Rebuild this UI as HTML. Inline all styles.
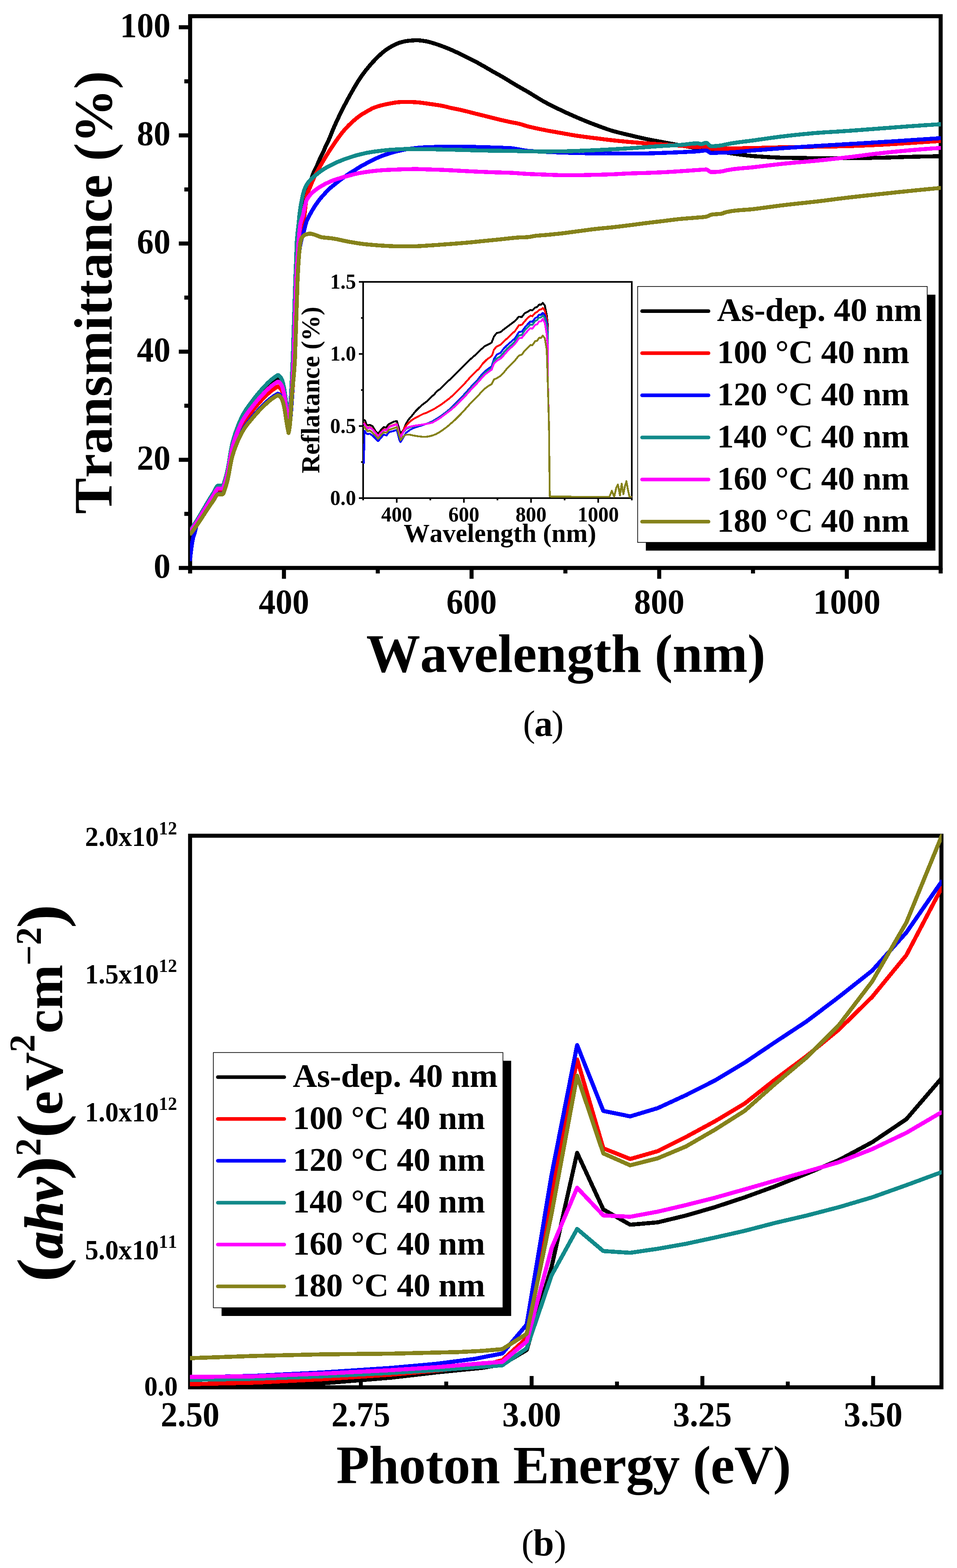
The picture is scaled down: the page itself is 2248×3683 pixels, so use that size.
<!DOCTYPE html>
<html lang="en">
<head>
<meta charset="utf-8">
<title>Transmittance and Tauc plots</title>
<style>
html,body{margin:0;padding:0;background:#ffffff;}
body{width:2248px;height:3683px;overflow:hidden;}
svg{display:block;}
svg text{font-family:"Liberation Serif",serif;font-weight:bold;fill:#000000;font-kerning:none;font-variant-ligatures:none;}
</style>
</head>
<body>
<svg width="2248" height="3683" viewBox="0 0 2248 3683">
<rect x="0" y="0" width="2248" height="3683" fill="#ffffff"/>
<g id="chart-a">
<line x1="420" y1="1334" x2="446.6" y2="1334" stroke="#000" stroke-width="9.5"/>
<line x1="433" y1="1207" x2="446.6" y2="1207" stroke="#000" stroke-width="9.5"/>
<line x1="420" y1="1080" x2="446.6" y2="1080" stroke="#000" stroke-width="9.5"/>
<line x1="433" y1="953" x2="446.6" y2="953" stroke="#000" stroke-width="9.5"/>
<line x1="420" y1="826" x2="446.6" y2="826" stroke="#000" stroke-width="9.5"/>
<line x1="433" y1="699" x2="446.6" y2="699" stroke="#000" stroke-width="9.5"/>
<line x1="420" y1="572" x2="446.6" y2="572" stroke="#000" stroke-width="9.5"/>
<line x1="433" y1="445" x2="446.6" y2="445" stroke="#000" stroke-width="9.5"/>
<line x1="420" y1="318" x2="446.6" y2="318" stroke="#000" stroke-width="9.5"/>
<line x1="433" y1="191" x2="446.6" y2="191" stroke="#000" stroke-width="9.5"/>
<line x1="420" y1="64" x2="446.6" y2="64" stroke="#000" stroke-width="9.5"/>
<line x1="446.6" y1="1334" x2="446.6" y2="1347" stroke="#000" stroke-width="9.5"/>
<line x1="667" y1="1334" x2="667" y2="1359.5" stroke="#000" stroke-width="9.5"/>
<line x1="887.4" y1="1334" x2="887.4" y2="1347" stroke="#000" stroke-width="9.5"/>
<line x1="1107.7" y1="1334" x2="1107.7" y2="1359.5" stroke="#000" stroke-width="9.5"/>
<line x1="1328.1" y1="1334" x2="1328.1" y2="1347" stroke="#000" stroke-width="9.5"/>
<line x1="1548.5" y1="1334" x2="1548.5" y2="1359.5" stroke="#000" stroke-width="9.5"/>
<line x1="1768.8" y1="1334" x2="1768.8" y2="1347" stroke="#000" stroke-width="9.5"/>
<line x1="1989.2" y1="1334" x2="1989.2" y2="1359.5" stroke="#000" stroke-width="9.5"/>
<line x1="2209.6" y1="1334" x2="2209.6" y2="1347" stroke="#000" stroke-width="9.5"/>
<rect x="446.6" y="38" width="1763" height="1296" fill="none" stroke="#000" stroke-width="9.5"/>
<text transform="translate(400.5,1357.2) scale(1,1.035)" font-size="79" text-anchor="end" >0</text>
<text transform="translate(400.5,1103.2) scale(1,1.035)" font-size="79" text-anchor="end" >20</text>
<text transform="translate(400.5,849.2) scale(1,1.035)" font-size="79" text-anchor="end" >40</text>
<text transform="translate(400.5,595.2) scale(1,1.035)" font-size="79" text-anchor="end" >60</text>
<text transform="translate(400.5,341.2) scale(1,1.035)" font-size="79" text-anchor="end" >80</text>
<text transform="translate(400.5,87.2) scale(1,1.035)" font-size="79" text-anchor="end" >100</text>
<text transform="translate(667,1441) scale(1,1.035)" font-size="79" text-anchor="middle" >400</text>
<text transform="translate(1107.7,1441) scale(1,1.035)" font-size="79" text-anchor="middle" >600</text>
<text transform="translate(1548.5,1441) scale(1,1.035)" font-size="79" text-anchor="middle" >800</text>
<text transform="translate(1989.2,1441) scale(1,1.035)" font-size="79" text-anchor="middle" >1000</text>
<text x="1329" y="1578" font-size="127" text-anchor="middle" letter-spacing="-0.3">Wavelength (nm)</text>
<text transform="translate(262,687) rotate(-90)" font-size="127" text-anchor="middle">Transmittance (%)</text>
<clipPath id="clipA"><rect x="446.2" y="38" width="1763.8" height="1296"/></clipPath>
<g clip-path="url(#clipA)" stroke-linejoin="round" shape-rendering="crispEdges">
<polyline points="445.6,1248 448.1,1245.8 449.6,1243.7 451.1,1241.5 452.6,1239.3 454.1,1237.1 455.6,1234.9 457.1,1232.6 458.6,1230.3 460.1,1228 461.6,1225.7 461.9,1225.2 463.1,1223.3 464.6,1220.9 466.1,1218.5 467.6,1216 469.1,1213.6 470.6,1211.1 472.1,1208.5 473.6,1206 475.1,1203.5 476.6,1200.9 478.1,1198.4 479.7,1195.9 481.2,1193.4 482.7,1190.9 483.8,1189 484.2,1188.5 485.7,1186 487.2,1183.5 488.7,1181.1 490.2,1178.6 491.7,1176.1 493.2,1173.7 494.7,1171.2 496.2,1168.8 497.7,1166.4 499.2,1164.1 500.7,1161.7 501.4,1160.7 502.2,1159.3 503.7,1156.6 505.2,1153.7 506.7,1150.8 508.2,1148.2 509.7,1146.2 511.2,1144.9 512.3,1144.7 512.7,1144.7 514.2,1144.7 515.7,1144.7 517.2,1144.7 518.7,1144.7 520.2,1144.7 521.8,1144.7 523.3,1144.7 523.3,1144.7 524.8,1142.6 526.3,1138 527.7,1133.4 527.8,1133 529.3,1128.3 530.8,1123.1 532.3,1117.4 533.8,1111.3 534.2,1109.4 535.3,1104.5 536.8,1096.5 538.3,1087.7 539.8,1078.5 541.3,1069.4 542.8,1060.8 544.3,1053.3 545.2,1049.5 545.8,1047 547.3,1041.4 548.8,1036.1 550.3,1031.2 551.8,1026.6 553.3,1022.2 554.8,1018 556.3,1013.9 557.8,1010 558.3,1008.7 559.3,1006.2 560.8,1002.4 562.3,998.8 563.9,995.4 565.4,992 566.9,988.8 568.4,985.8 569.9,982.9 571.4,980.1 571.5,980 572.9,977.6 574.4,975.1 575.9,972.7 577.4,970.4 578.9,968.1 580.4,966 581.9,963.9 583.4,961.8 584.9,959.8 586.4,957.8 587.9,955.9 589.4,953.9 590.9,952 592.4,950.1 593.4,948.8 593.9,948.1 595.4,946.2 596.9,944.2 598.4,942.3 599.9,940.4 601.4,938.6 602.9,936.7 604.4,934.9 606,933.1 607.5,931.3 609,929.5 610.5,927.8 612,926.1 613.5,924.4 615,922.8 615.3,922.4 616.5,921.2 618,919.5 619.5,917.9 621,916.3 622.5,914.8 624,913.2 625.5,911.7 627,910.2 628.5,908.7 630,907.2 631.5,905.8 633,904.4 634.5,903.1 636,901.8 637.2,900.8 637.5,900.6 639,899.4 640.5,898.2 642,897.1 643.5,896 645,894.9 646.5,893.9 648.1,892.9 649.6,891.9 651.1,891 652.6,890.1 654.1,890.4 655.7,891.4 657.3,892.9 658.9,894.8 660.4,897.1 661.3,898.4 662,899.7 663.6,904 665.2,909.8 666.7,916.8 667.9,922.4 668.3,924.6 669.9,935.5 671.5,947.7 672.3,953.6 673,958.5 674.6,968.5 676.2,978.1 677.8,987.1 679.3,978.8 680.8,967.9 681.1,965.6 682.3,954.8 683.8,939.5 685.3,921.6 686.8,900.9 688.3,876.9 689.8,849.2 690,844.3 691.3,808.7 692.1,781 692.8,761.7 694.2,717.7 694.3,716.7 695.8,669.2 696.3,654.4 697.3,636.2 698.8,612.5 699.5,601.6 700.3,590.3 701.8,570.6 701.8,569.9 703.3,555.9 704.8,543.5 706.3,533.2 706.5,531.9 707.8,524.1 709.3,515.4 710.8,506.9 712.3,498.8 713.8,490.9 715.3,483.4 716.8,476.1 718.3,469.2 719.8,462.5 721.3,456.1 722.8,449.9 724.3,444.1 725.8,438.4 727.3,433.1 728.8,428 730.3,423.2 731.8,418.6 733.3,414.2 734.2,411.7 734.8,410.1 736.3,406.5 737.8,403.3 739.3,400.3 740.8,397.4 742.3,394.2 742.5,393.8 743.8,390.8 745.3,387.3 746.8,383.8 748.3,380.2 749.8,376.7 751.3,373.2 752.8,369.9 752.8,369.8 754.3,366.8 755.8,363.8 757.3,361 758.8,358 760.3,354.9 761.8,351.5 761.9,351.2 763.1,347.9 763.3,347.5 764.8,344 766.3,340.7 767.8,337.7 769.3,334.7 770.8,331.6 772.3,328.5 773.5,325.9 773.8,325.1 775.3,321.5 776.8,317.8 778.3,314 779.8,310.2 781.3,306.4 782.6,303.3 782.8,302.9 784.3,299.4 785.8,296.1 787.3,292.7 788.8,289.4 790.3,286.1 791.8,282.9 793.3,279.7 794.8,276.5 796.3,273.4 797.8,270.3 799.3,267.2 800.8,264.2 802.3,261.2 803.8,258.2 804.2,257.4 805.3,255.2 806.8,252.2 808.3,249.3 809.8,246.4 811.3,243.5 812.8,240.7 814.3,237.9 815.8,235.1 817.3,232.3 818.8,229.6 820.3,226.8 821.8,224.1 823.3,221.4 824.8,218.8 825.5,217.5 826.3,216.1 827.8,213.5 829.3,210.8 830.8,208.2 832.3,205.6 833.8,203 835.3,200.5 836.8,197.9 838.3,195.4 839.8,193 841.3,190.6 842.8,188.3 844.3,186 844.6,185.6 845.8,183.7 847.3,181.6 848.8,179.4 850.3,177.3 851.8,175.2 853.3,173.1 854.8,171.1 856.3,169.1 857.8,167.2 859.3,165.2 860.8,163.3 862.3,161.5 863.8,159.7 863.8,159.6 865.3,157.8 866.8,156 868.3,154.3 869.8,152.5 871.3,150.8 872.8,149.1 874.3,147.4 875.8,145.8 877.3,144.2 878.8,142.6 880.3,141 881.8,139.5 883.3,138 883.6,137.7 884.8,136.5 886.3,135 887.8,133.5 889.3,132 890.8,130.6 892.3,129.2 893.8,127.8 895.3,126.4 896.8,125.1 898.3,123.8 899.8,122.5 901.3,121.3 902.8,120.1 903.3,119.8 904.3,119 905.8,117.9 907.3,116.9 908.8,115.8 910.3,114.8 911.8,113.8 913.3,112.9 914.8,111.9 916.3,111 917.8,110.2 919.3,109.3 920.8,108.5 922.1,107.8 922.3,107.7 923.8,106.9 925.3,106.1 926.8,105.4 928.3,104.6 929.9,103.9 931.4,103.2 932.9,102.5 934.4,101.9 935.9,101.3 937.4,100.8 938.9,100.3 940.2,99.8 940.4,99.8 941.9,99.4 943.4,99 944.9,98.6 946.4,98.2 947.9,97.8 949.4,97.5 950.9,97.1 952.4,96.8 953.9,96.6 955.4,96.3 956.9,96.1 958.4,95.9 959.1,95.9 959.9,95.8 961.4,95.6 962.9,95.5 964.4,95.4 965.9,95.3 967.4,95.1 968.9,95 970.4,94.9 971.9,94.9 973.4,94.8 974.9,94.7 976.4,94.7 977.9,94.7 979.1,94.7 979.4,94.7 980.9,94.7 982.4,94.7 983.9,94.8 985.4,94.9 986.9,95.1 988.4,95.2 989.9,95.4 991.4,95.6 992.9,95.8 994.4,96 995.9,96.2 997.4,96.4 998.9,96.6 999,96.6 1000.4,96.9 1001.9,97.1 1003.4,97.4 1004.9,97.8 1006.4,98.2 1007.9,98.6 1009.4,99 1010.9,99.4 1012.4,99.8 1013.9,100.3 1015.4,100.8 1016.9,101.2 1018.4,101.7 1019,101.8 1019.9,102.1 1021.4,102.6 1022.9,103 1024.4,103.5 1025.9,104 1027.4,104.5 1028.9,105 1030.4,105.5 1031.9,106.1 1033.4,106.6 1034.9,107.1 1036.4,107.7 1037.9,108.2 1038.9,108.6 1039.4,108.8 1040.9,109.3 1042.4,109.9 1043.9,110.5 1045.4,111.1 1046.9,111.7 1048.4,112.2 1049.9,112.9 1051.4,113.5 1052.9,114.1 1054.4,114.7 1055.9,115.3 1057.4,116 1058.9,116.6 1058.9,116.6 1060.4,117.2 1061.9,117.9 1063.4,118.6 1064.9,119.2 1066.4,119.9 1067.9,120.6 1069.4,121.3 1070.9,122 1072.4,122.7 1073.9,123.4 1075.4,124.1 1076.9,124.8 1078.4,125.6 1078.8,125.8 1079.9,126.3 1081.4,127 1082.9,127.8 1084.4,128.5 1085.9,129.2 1087.4,130 1088.9,130.8 1090.4,131.5 1091.9,132.3 1093.4,133 1094.9,133.8 1096.4,134.6 1097.9,135.3 1098.8,135.7 1099.4,136.1 1100.9,136.8 1102.4,137.5 1103.9,138.3 1105.4,139 1106.9,139.8 1108.4,140.5 1109.9,141.2 1111.4,142 1112.9,142.7 1114.4,143.5 1115.9,144.3 1117.4,145 1118.7,145.7 1118.9,145.8 1120.4,146.6 1121.9,147.4 1123.4,148.3 1124.9,149.1 1126.4,149.9 1127.9,150.8 1129.4,151.6 1130.9,152.5 1132.4,153.3 1133.9,154.2 1135.4,155 1136.9,155.9 1138.4,156.7 1138.7,156.9 1139.9,157.6 1141.4,158.5 1142.9,159.3 1144.4,160.2 1145.9,161.1 1147.4,162 1148.9,162.8 1150.4,163.7 1151.9,164.6 1153.4,165.5 1154.9,166.3 1156.4,167.2 1157.9,168.1 1158.6,168.5 1159.4,168.9 1160.9,169.8 1162.4,170.6 1163.9,171.4 1165.4,172.3 1166.9,173.1 1168.4,173.9 1169.9,174.8 1171.4,175.6 1172.9,176.4 1174.4,177.3 1175.9,178.1 1177.4,179 1178.6,179.6 1178.9,179.8 1180.4,180.7 1181.9,181.6 1183.4,182.5 1184.9,183.4 1186.4,184.3 1187.9,185.2 1189.4,186.1 1190.9,187 1192.4,187.9 1193.9,188.8 1195.4,189.7 1196.9,190.7 1198.4,191.6 1198.5,191.6 1199.9,192.5 1201.4,193.4 1202.9,194.3 1204.4,195.2 1205.9,196.1 1207.4,197 1208.9,197.9 1210.4,198.8 1211.9,199.7 1213.4,200.6 1214.9,201.5 1216.4,202.4 1217.9,203.3 1218.5,203.6 1219.4,204.1 1220.9,205 1222.4,205.9 1224,206.7 1225.5,207.6 1227,208.4 1228.5,209.3 1230,210.1 1231.5,211 1233,211.8 1234.5,212.7 1236,213.5 1237.5,214.4 1239,215.3 1239.9,215.8 1240.5,216.2 1242,217 1243.5,217.9 1245,218.8 1246.5,219.7 1248,220.7 1249.5,221.6 1251,222.5 1252.5,223.4 1254,224.3 1255.5,225.3 1257,226.2 1258.5,227.1 1260,228.1 1261.5,229 1263,229.9 1264.5,230.8 1266,231.7 1267.5,232.6 1269,233.5 1270.5,234.4 1272,235.3 1273.5,236.2 1275,237.1 1276.5,237.9 1278,238.8 1279.5,239.6 1279.8,239.8 1281,240.4 1282.5,241.2 1284,242 1285.5,242.8 1287,243.6 1288.5,244.4 1290,245.2 1291.5,245.9 1293,246.7 1294.5,247.5 1296,248.2 1297.5,249 1299,249.7 1300.5,250.5 1302,251.2 1303.5,251.9 1305,252.7 1306.5,253.4 1308,254.1 1309.5,254.8 1311,255.6 1312.5,256.3 1314,257 1315.5,257.7 1317,258.4 1318.5,259.1 1319.7,259.7 1320,259.9 1321.5,260.6 1323,261.3 1324.5,262 1326,262.7 1327.5,263.4 1329,264.1 1330.5,264.8 1332,265.5 1333.5,266.1 1335,266.8 1336.5,267.5 1338,268.2 1339.5,268.9 1341,269.5 1342.5,270.2 1344,270.9 1345.5,271.6 1347,272.2 1348.5,272.9 1350,273.5 1351.5,274.2 1353,274.8 1354.5,275.5 1356,276.1 1357.5,276.8 1359,277.4 1359.6,277.7 1360.5,278 1362,278.7 1363.5,279.3 1365,279.9 1366.5,280.6 1368,281.2 1369.5,281.8 1371,282.4 1372.5,283 1374,283.7 1375.5,284.3 1377,284.9 1378.5,285.5 1380,286.1 1381.5,286.7 1383,287.3 1384.5,287.9 1386,288.5 1387.5,289 1389,289.6 1390.5,290.2 1392,290.8 1393.5,291.4 1395,291.9 1396.5,292.5 1398,293.1 1399.5,293.6 1399.5,293.6 1401,294.2 1402.5,294.8 1404,295.3 1405.5,295.9 1407,296.4 1408.5,297 1410,297.6 1411.5,298.1 1413,298.7 1414.5,299.2 1416,299.8 1417.5,300.3 1419,300.9 1420.5,301.4 1422,301.9 1423.5,302.5 1425,303 1426.5,303.5 1428,304 1429.5,304.5 1431,305 1432.5,305.5 1434,306 1435.5,306.4 1437,306.9 1438.5,307.3 1439.4,307.6 1440,307.8 1441.5,308.2 1443,308.6 1444.5,309 1446,309.4 1447.5,309.8 1449,310.2 1450.5,310.6 1452,311 1453.5,311.4 1455,311.8 1456.5,312.1 1458,312.5 1459.5,312.9 1461,313.2 1462.5,313.6 1464,314 1465.5,314.3 1467,314.7 1468.5,315 1470,315.4 1471.5,315.7 1473,316.1 1474.5,316.4 1476,316.8 1477.5,317.1 1479,317.5 1479.3,317.6 1480.5,317.9 1482,318.2 1483.5,318.6 1485,318.9 1486.5,319.3 1488,319.7 1489.5,320 1491,320.4 1492.5,320.7 1494,321.1 1495.5,321.4 1497,321.8 1498.5,322.1 1500,322.5 1501.5,322.8 1503,323.2 1504.5,323.5 1506,323.9 1507.5,324.2 1509,324.5 1510.5,324.9 1512,325.2 1513.5,325.5 1515,325.9 1516.5,326.2 1518.1,326.5 1519.1,326.7 1519.6,326.8 1521.1,327.1 1522.6,327.4 1524.1,327.7 1525.6,328 1527.1,328.3 1528.6,328.6 1530.1,328.9 1531.6,329.2 1533.1,329.5 1534.6,329.8 1536.1,330.1 1537.6,330.3 1539.1,330.6 1540.6,330.9 1542.1,331.2 1543.6,331.5 1545.1,331.7 1546.6,332 1548.1,332.3 1549.6,332.6 1551.1,332.8 1552.6,333.1 1554.1,333.4 1555.6,333.7 1557.1,333.9 1558.6,334.2 1559,334.3 1560.1,334.5 1561.6,334.8 1563.1,335.1 1564.6,335.3 1566.1,335.6 1567.6,335.9 1569.1,336.2 1570.6,336.5 1572.1,336.7 1573.6,337 1575.1,337.3 1576.6,337.6 1578.1,337.8 1579.6,338.1 1581.1,338.4 1582.6,338.7 1584.1,338.9 1585.6,339.2 1587.1,339.5 1588.6,339.7 1590.1,340 1591.6,340.2 1593.1,340.5 1594.6,340.8 1596.1,341 1597.6,341.3 1598.9,341.5 1599.1,341.5 1600.6,341.8 1602.1,342 1603.6,342.3 1605.1,342.5 1606.6,342.8 1608.1,343.1 1609.6,343.4 1611.1,343.6 1612.6,343.9 1614.1,344.2 1615.6,344.4 1617.1,344.7 1618.6,345 1620.1,345.2 1621.6,345.4 1623.1,345.7 1624.6,345.9 1626.1,346.1 1627.6,346.3 1629.1,346.5 1630.6,346.7 1632.1,346.9 1633.6,347.1 1635.1,347.2 1636.6,347.3 1638.1,347.4 1638.8,347.5 1639.6,347.5 1641.1,347.6 1642.6,347.7 1644.1,347.7 1645.6,347.8 1647.1,347.8 1648.6,347.8 1650.1,347.9 1651.6,347.9 1653.1,348 1654.6,348 1656.1,348.1 1657.6,348.2 1658.8,348.3 1659.1,348.3 1660.6,348.5 1662.1,348.7 1663.6,349 1665.1,349.4 1666.6,349.8 1668.1,350.3 1669.6,350.8 1671.1,351.3 1672.6,351.8 1674.1,352.2 1675.6,352.7 1677.1,353.1 1678.6,353.4 1678.7,353.5 1680.1,353.7 1681.6,354.1 1683.1,354.4 1684.6,354.7 1686.1,354.9 1687.6,355.2 1689.1,355.5 1690.6,355.8 1692.1,356.1 1693.6,356.3 1695.1,356.6 1696.6,356.8 1698.1,357.1 1699.6,357.3 1701.1,357.6 1702.6,357.8 1704.1,358.1 1705.6,358.3 1707.1,358.5 1708.6,358.8 1710.1,359 1711.6,359.2 1713.1,359.4 1714.6,359.7 1716.1,359.9 1717.6,360.1 1718.6,360.2 1719.1,360.3 1720.6,360.5 1722.1,360.7 1723.6,361 1725.1,361.2 1726.6,361.4 1728.1,361.6 1729.6,361.8 1731.1,362 1732.6,362.2 1734.1,362.5 1735.6,362.7 1737.1,362.9 1738.6,363.1 1740.1,363.3 1741.6,363.5 1743.1,363.7 1744.6,363.9 1746.1,364.1 1747.6,364.3 1749.1,364.5 1750.6,364.7 1752.1,364.8 1753.6,365 1755.1,365.2 1756.6,365.4 1758.1,365.5 1759.6,365.7 1761.1,365.8 1762.6,366 1764.1,366.1 1765.6,366.3 1767.1,366.4 1768.6,366.5 1770.1,366.7 1771.6,366.8 1772.9,366.9 1773.1,366.9 1774.6,367 1776.1,367.1 1777.6,367.2 1779.1,367.3 1780.6,367.4 1782.1,367.5 1783.6,367.6 1785.1,367.7 1786.6,367.8 1788.1,367.9 1789.6,368 1791.1,368.1 1792.6,368.2 1794.1,368.3 1795.6,368.4 1797.1,368.5 1798.6,368.6 1800.1,368.7 1801.6,368.8 1803.1,368.9 1804.6,369 1806.1,369 1807.6,369.1 1809.1,369.2 1810.6,369.3 1812.2,369.4 1813.7,369.4 1815.2,369.5 1816.7,369.6 1818.2,369.6 1819.7,369.7 1821.2,369.8 1822.7,369.8 1824.2,369.9 1825.7,370 1827.2,370 1828.7,370.1 1830.2,370.1 1831.7,370.2 1833.2,370.2 1834.7,370.3 1836.2,370.3 1837.7,370.3 1839.2,370.4 1840.7,370.4 1842.2,370.5 1843.7,370.5 1845.2,370.5 1845.7,370.5 1846.7,370.5 1848.2,370.6 1849.7,370.6 1851.2,370.6 1852.7,370.6 1854.2,370.7 1855.7,370.7 1857.2,370.7 1858.7,370.7 1860.2,370.8 1861.7,370.8 1863.2,370.8 1864.7,370.8 1866.2,370.8 1867.7,370.9 1869.2,370.9 1870.7,370.9 1872.2,370.9 1873.7,370.9 1875.2,371 1876.7,371 1878.2,371 1879.7,371 1881.2,371 1882.7,371 1884.2,371.1 1885.7,371.1 1887.2,371.1 1888.7,371.1 1890.2,371.1 1891.7,371.1 1893.2,371.1 1894.7,371.2 1896.2,371.2 1897.7,371.2 1899.2,371.2 1900.7,371.2 1902.2,371.2 1903.7,371.2 1905.2,371.2 1906.7,371.2 1908.2,371.2 1909.7,371.2 1911.2,371.2 1912.7,371.2 1914.2,371.2 1915.7,371.2 1917.2,371.2 1918.6,371.2 1918.7,371.2 1920.2,371.2 1921.7,371.2 1923.2,371.2 1924.7,371.2 1926.2,371.2 1927.7,371.2 1929.2,371.2 1930.7,371.2 1932.2,371.2 1933.7,371.2 1935.2,371.2 1936.7,371.2 1938.2,371.2 1939.7,371.2 1941.2,371.2 1942.7,371.2 1944.2,371.2 1945.7,371.2 1947.2,371.2 1948.7,371.2 1950.2,371.2 1951.7,371.2 1953.2,371.2 1954.7,371.2 1956.2,371.2 1957.7,371.2 1959.2,371.2 1960.7,371.2 1962.2,371.2 1963.7,371.2 1965.2,371.2 1966.7,371.2 1968.2,371.2 1969.7,371.2 1971.2,371.2 1972.7,371.2 1974.2,371.2 1975.7,371.2 1977.2,371.2 1978.7,371.2 1980.2,371.2 1981.7,371.2 1983.2,371.2 1984.7,371.2 1986.2,371.2 1987.7,371.2 1989.2,371.2 1990.7,371.2 1991.5,371.2 1992.2,371.2 1993.7,371.2 1995.2,371.2 1996.7,371.2 1998.2,371.2 1999.7,371.2 2001.2,371.2 2002.7,371.2 2004.2,371.2 2005.7,371.2 2007.2,371.2 2008.7,371.2 2010.2,371.2 2011.7,371.2 2013.2,371.2 2014.7,371.2 2016.2,371.1 2017.7,371.1 2019.2,371.1 2020.7,371.1 2022.2,371.1 2023.7,371.1 2025.2,371.1 2026.7,371 2028.2,371 2029.7,371 2031.2,371 2032.7,371 2034.2,370.9 2035.7,370.9 2037.2,370.9 2038.7,370.9 2040.2,370.9 2041.7,370.8 2043.2,370.8 2044.7,370.8 2046.2,370.8 2047.7,370.8 2049.2,370.7 2050.7,370.7 2052.2,370.7 2053.7,370.7 2055.2,370.7 2056.7,370.6 2058.2,370.6 2059.7,370.6 2061.2,370.6 2062.7,370.5 2064.2,370.5 2064.4,370.5 2065.7,370.5 2067.2,370.5 2068.7,370.4 2070.2,370.4 2071.7,370.4 2073.2,370.4 2074.7,370.3 2076.2,370.3 2077.7,370.2 2079.2,370.2 2080.7,370.2 2082.2,370.1 2083.7,370.1 2085.2,370 2086.7,370 2088.2,369.9 2089.7,369.9 2091.2,369.8 2092.7,369.8 2094.2,369.7 2095.7,369.7 2097.2,369.6 2098.7,369.6 2100.2,369.5 2101.7,369.5 2103.2,369.4 2104.7,369.4 2106.2,369.3 2107.8,369.3 2109.3,369.2 2110.8,369.2 2112.3,369.1 2113.8,369.1 2115.3,369 2116.8,369 2118.3,368.9 2119.8,368.9 2121.3,368.8 2122.8,368.8 2124.3,368.7 2125.8,368.7 2127.3,368.6 2128.8,368.6 2130.3,368.5 2131.8,368.5 2133.3,368.4 2134.8,368.4 2136.3,368.4 2137.2,368.3 2137.8,368.3 2139.3,368.3 2140.8,368.2 2142.3,368.2 2143.8,368.2 2145.3,368.1 2146.8,368.1 2148.3,368.1 2149.8,368 2151.3,368 2152.8,368 2154.3,367.9 2155.8,367.9 2157.3,367.9 2158.8,367.8 2160.3,367.8 2161.8,367.8 2163.3,367.7 2164.8,367.7 2166.3,367.7 2167.8,367.6 2169.3,367.6 2170.8,367.6 2172.3,367.5 2173.8,367.5 2175.3,367.5 2176.8,367.4 2178.3,367.4 2179.8,367.4 2181.3,367.4 2182.8,367.3 2184.3,367.3 2185.8,367.3 2187.3,367.2 2188.8,367.2 2190.3,367.2 2191.8,367.2 2193.3,367.1 2194.8,367.1 2196.3,367.1 2197.8,367.1 2199.3,367 2200.8,367 2202.3,367 2203.8,367 2205.3,366.9 2206.8,366.9 2208.3,366.9 2210.6,366.9" fill="none" stroke="#000000" stroke-width="9.4" />
<polyline points="445.6,1251.4 448.1,1249.4 449.6,1247.3 451.1,1245.2 452.6,1243.1 454.1,1241 455.6,1238.8 457.1,1236.7 458.6,1234.5 460.1,1232.3 461.6,1230 461.9,1229.6 463.1,1227.8 464.6,1225.5 466.1,1223.1 467.6,1220.8 469.1,1218.4 470.6,1216 472.1,1213.6 473.6,1211.2 475.1,1208.7 476.6,1206.3 478.1,1203.9 479.7,1201.5 481.2,1199.1 482.7,1196.7 483.8,1194.8 484.2,1194.3 485.7,1191.9 487.2,1189.6 488.7,1187.2 490.2,1184.8 491.7,1182.5 493.2,1180.1 494.7,1177.8 496.2,1175.5 497.7,1173.2 499.2,1170.9 500.7,1168.6 501.4,1167.7 502.2,1166.4 503.7,1163.7 505.2,1160.9 506.7,1158.2 508.2,1155.7 509.7,1153.8 511.2,1152.5 512.3,1152.3 512.7,1152.3 514.2,1152.3 515.7,1152.3 517.2,1152.3 518.7,1152.3 520.2,1152.3 521.8,1152.3 523.3,1152.3 523.3,1152.3 524.8,1150.3 526.3,1145.9 527.7,1141.5 527.8,1141.1 529.3,1136.6 530.8,1131.6 532.3,1126.1 533.8,1120.3 534.2,1118.4 535.3,1113.7 536.8,1106 538.3,1097.6 539.8,1088.8 541.3,1080 542.8,1071.8 544.3,1064.6 545.2,1060.9 545.8,1058.6 547.3,1053.2 548.8,1048.1 550.3,1043.4 551.8,1038.9 553.3,1034.7 554.8,1030.7 556.3,1026.8 557.8,1023 558.3,1021.8 559.3,1019.3 560.8,1015.8 562.3,1012.3 563.9,1009 565.4,1005.8 566.9,1002.7 568.4,999.8 569.9,997 571.4,994.4 571.5,994.2 572.9,991.9 574.4,989.5 575.9,987.2 577.4,985 578.9,982.9 580.4,980.8 581.9,978.8 583.4,976.8 584.9,974.9 586.4,973 587.9,971.1 589.4,969.2 590.9,967.4 592.4,965.5 593.4,964.3 593.9,963.6 595.4,961.8 596.9,959.9 598.4,958.1 599.9,956.3 601.4,954.5 602.9,952.7 604.4,950.9 606,949.2 607.5,947.5 609,945.8 610.5,944.1 612,942.5 613.5,940.9 615,939.3 615.3,939 616.5,937.8 618,936.2 619.5,934.7 621,933.1 622.5,931.6 624,930.1 625.5,928.6 627,927.2 628.5,925.8 630,924.4 631.5,923 633,921.7 634.5,920.4 636,919.2 637.2,918.3 637.5,918 639,916.9 640.5,915.7 642,914.7 643.5,913.6 645,912.6 646.5,911.6 648.1,910.6 649.6,909.7 651.1,908.8 652.6,907.9 654.1,908.2 655.7,909.2 657.3,910.6 658.9,912.5 660.4,914.7 661.3,916 662,917.2 663.6,921.3 665.2,926.9 666.7,933.6 667.9,939 668.3,941.1 669.9,951.5 671.5,963.3 672.3,968.9 673,973.6 674.6,983.2 676.2,992.4 677.8,1001.1 679.3,992.9 680.8,982.6 681.1,980.4 682.3,970.3 683.8,956.5 685.3,940.9 686.8,923.1 688.3,902.7 689.8,879.4 691.3,852.7 691.7,844.3 692.8,815 693.8,781 694.3,767.3 695.8,722.3 695.9,717.7 697.3,674.7 698,654.4 698.8,639.3 700.3,614.1 701.2,601.6 701.8,594.7 703.3,579.2 704.4,569.9 704.8,566.9 706.3,557.1 707.8,548.6 709.3,540.4 709.6,538.3 710.8,532.1 712.3,524.2 713.8,515.6 713.9,515.1 715.3,504.5 716.8,491.1 718.3,477.6 719.8,466 721,459.6 721.3,458.4 722.8,453.2 724.3,449.1 725.8,445.5 727.3,442.1 728.3,439.6 728.8,438.4 730.3,434.6 731.8,430.9 733.3,427.2 734.8,423.7 736.3,420.4 736.6,419.7 737.8,417.1 739.3,414.1 740.8,411.1 742.3,408.2 743.8,405.3 744.6,403.7 745.3,402.5 746.8,399.8 748.3,397.1 749.8,394.4 751.3,391.8 752.8,389.2 754.3,386.6 755.8,384 755.9,383.8 757.3,381.4 758.8,378.8 760.3,376.3 761.8,373.7 763.3,371.2 764.8,368.8 765.8,367.1 766.3,366.3 767.8,363.9 769.3,361.5 770.8,359.1 772.3,356.8 773.8,354.4 775.3,352.1 776.8,349.7 778.3,347.4 779.8,345.2 781.3,342.9 782.8,340.7 784.3,338.5 785.8,336.3 787.3,334.1 787.9,333.2 788.8,332 790.3,329.8 791.8,327.7 793.3,325.6 794.8,323.5 796.3,321.4 797.8,319.4 799.3,317.4 800.8,315.4 802.3,313.4 803.8,311.5 805.3,309.7 806.8,307.9 807.3,307.3 808.3,306.1 809.8,304.4 811.3,302.8 812.8,301.1 814.3,299.5 815.8,297.9 817.3,296.4 818.8,294.8 820.3,293.3 821.8,291.9 823.3,290.4 824.8,289 826.3,287.6 826.6,287.3 827.8,286.3 829.3,284.9 830.8,283.6 832.3,282.3 833.8,281 835.3,279.7 836.8,278.4 838.3,277.2 839.8,276 841.3,274.9 842.8,273.7 844.3,272.6 845.8,271.6 846.1,271.4 847.3,270.5 848.8,269.5 850.3,268.6 851.8,267.6 853.3,266.7 854.8,265.8 856.3,264.9 857.8,264.1 859.3,263.2 859.4,263.1 860.8,262.3 862.3,261.5 863.8,260.6 865.3,259.7 866.8,258.9 868.3,258 869.8,257.2 871.3,256.4 872.8,255.6 874.3,254.8 875.8,254.1 877.3,253.5 878.8,252.8 879.4,252.6 880.3,252.3 881.8,251.7 883.3,251.2 884.8,250.7 886.3,250.2 887.8,249.7 889.3,249.3 890.8,248.9 892.3,248.4 893.8,248 895.3,247.6 896.8,247.3 898.3,246.9 899.3,246.7 899.8,246.5 901.3,246.2 902.8,245.8 904.3,245.5 905.8,245.1 907.3,244.8 908.8,244.5 910.3,244.2 911.8,243.9 913.3,243.6 914.8,243.3 916.3,243.1 917.8,242.8 919.3,242.6 919.3,242.5 920.8,242.3 922.3,242 923.8,241.8 925.3,241.5 926.8,241.2 928.3,241 929.9,240.8 931.4,240.5 932.9,240.3 934.4,240.2 935.9,240 937.4,239.9 938.9,239.8 939.2,239.8 940.4,239.8 941.9,239.7 943.4,239.7 944.9,239.7 946.4,239.6 947.9,239.6 949.4,239.6 950.9,239.5 952.4,239.5 953.9,239.5 955.4,239.5 956.9,239.5 958.4,239.5 959.1,239.5 959.9,239.5 961.4,239.5 962.9,239.5 964.4,239.6 965.9,239.6 967.4,239.7 968.9,239.7 970.4,239.8 971.9,239.9 973.4,239.9 974.9,240 976.4,240.1 977.9,240.2 979.1,240.3 979.4,240.3 980.9,240.4 982.4,240.5 983.9,240.7 985.4,240.8 986.9,241 988.4,241.2 989.9,241.4 991.4,241.6 992.9,241.8 994.4,242 995.9,242.2 997.4,242.4 998.9,242.6 999,242.7 1000.4,242.8 1001.9,243 1003.4,243.2 1004.9,243.4 1006.4,243.6 1007.9,243.8 1009.4,244.1 1010.9,244.3 1012.4,244.5 1013.9,244.7 1015.4,244.9 1016.9,245.1 1018.4,245.4 1019,245.5 1019.9,245.6 1021.4,245.8 1022.9,246 1024.4,246.3 1025.9,246.5 1027.4,246.7 1028.9,246.9 1030.4,247.2 1031.9,247.4 1033.4,247.7 1034.9,247.9 1036.4,248.2 1037.9,248.4 1038.9,248.6 1039.4,248.7 1040.9,249 1042.4,249.4 1043.9,249.7 1045.4,250.1 1046.9,250.5 1048.4,250.8 1049.9,251.2 1051.4,251.6 1052.9,252 1054.4,252.4 1055.9,252.7 1057.4,253.1 1058.9,253.4 1058.9,253.4 1060.4,253.8 1061.9,254.1 1063.4,254.4 1064.9,254.7 1066.4,255 1067.9,255.2 1069.4,255.5 1070.9,255.8 1072.4,256.1 1073.9,256.4 1075.4,256.7 1076.9,257 1078.4,257.3 1078.8,257.4 1079.9,257.7 1081.4,258 1082.9,258.3 1084.4,258.7 1085.9,259 1087.4,259.4 1088.9,259.8 1090.4,260.1 1091.9,260.5 1093.4,260.9 1094.9,261.2 1096.4,261.6 1097.9,262 1098.8,262.2 1099.4,262.4 1100.9,262.7 1102.4,263.1 1103.9,263.5 1105.4,263.9 1106.9,264.3 1108.4,264.7 1109.9,265.1 1111.4,265.5 1112.9,265.9 1114.4,266.3 1115.9,266.7 1117.4,267.1 1118.7,267.4 1118.9,267.4 1120.4,267.8 1121.9,268.2 1123.4,268.5 1124.9,268.9 1126.4,269.3 1127.9,269.6 1129.4,270 1130.9,270.3 1132.4,270.7 1133.9,271 1135.4,271.4 1136.9,271.7 1138.4,272.1 1138.7,272.2 1139.9,272.5 1141.4,272.9 1142.9,273.3 1144.4,273.7 1145.9,274.1 1147.4,274.5 1148.9,274.8 1150.4,275.2 1151.9,275.6 1153.4,276 1154.9,276.4 1156.4,276.8 1157.9,277.2 1158.6,277.4 1159.4,277.6 1160.9,277.9 1162.4,278.3 1163.9,278.7 1165.4,279 1166.9,279.4 1168.4,279.8 1169.9,280.1 1171.4,280.5 1172.9,280.8 1174.4,281.2 1175.9,281.5 1177.4,281.9 1178.6,282.2 1178.9,282.2 1180.4,282.6 1181.9,282.9 1183.4,283.3 1184.9,283.6 1186.4,283.9 1187.9,284.3 1189.4,284.6 1190.9,284.9 1192.4,285.2 1193.9,285.6 1195.4,285.9 1196.9,286.2 1198.4,286.5 1198.5,286.5 1199.9,286.8 1201.4,287.1 1202.9,287.4 1204.4,287.7 1205.9,288 1207.4,288.3 1208.9,288.6 1210.4,288.8 1211.9,289.1 1213.4,289.4 1214.9,289.7 1216.4,290.1 1217.9,290.4 1218.5,290.5 1219.4,290.8 1220.9,291.2 1222.4,291.6 1224,292 1225.5,292.5 1227,292.9 1228.5,293.4 1230,293.9 1231.5,294.3 1233,294.8 1234.5,295.3 1236,295.7 1237.5,296.2 1239,296.6 1239.9,296.8 1240.5,297 1242,297.3 1243.5,297.7 1245,298.1 1246.5,298.4 1248,298.8 1249.5,299.1 1251,299.5 1252.5,299.8 1254,300.2 1255.5,300.5 1257,300.9 1258.5,301.2 1260,301.5 1261.5,301.8 1263,302.2 1264.5,302.5 1266,302.8 1267.5,303.1 1269,303.4 1270.5,303.7 1272,304 1273.5,304.3 1275,304.6 1276.5,304.9 1278,305.2 1279.5,305.5 1279.8,305.6 1281,305.8 1282.5,306.1 1284,306.4 1285.5,306.7 1287,307 1288.5,307.3 1290,307.5 1291.5,307.8 1293,308.1 1294.5,308.4 1296,308.6 1297.5,308.9 1299,309.2 1300.5,309.4 1302,309.7 1303.5,309.9 1305,310.2 1306.5,310.5 1308,310.7 1309.5,311 1311,311.3 1312.5,311.5 1314,311.8 1315.5,312 1317,312.3 1318.5,312.6 1319.7,312.8 1320,312.8 1321.5,313.1 1323,313.3 1324.5,313.6 1326,313.9 1327.5,314.1 1329,314.4 1330.5,314.7 1332,314.9 1333.5,315.2 1335,315.5 1336.5,315.7 1338,316 1339.5,316.3 1341,316.5 1342.5,316.8 1344,317 1345.5,317.3 1347,317.6 1348.5,317.8 1350,318.1 1351.5,318.3 1353,318.5 1354.5,318.8 1356,319 1357.5,319.2 1359,319.5 1359.6,319.5 1360.5,319.7 1362,319.9 1363.5,320.1 1365,320.3 1366.5,320.5 1368,320.7 1369.5,320.9 1371,321.1 1372.5,321.3 1374,321.5 1375.5,321.7 1377,321.9 1378.5,322.1 1380,322.3 1381.5,322.5 1383,322.7 1384.5,322.9 1386,323.1 1387.5,323.3 1389,323.4 1390.5,323.6 1392,323.8 1393.5,324 1395,324.2 1396.5,324.4 1398,324.6 1399.5,324.7 1399.5,324.7 1401,324.9 1402.5,325.1 1404,325.3 1405.5,325.5 1407,325.7 1408.5,325.9 1410,326 1411.5,326.2 1413,326.4 1414.5,326.6 1416,326.8 1417.5,327 1419,327.2 1420.5,327.3 1422,327.5 1423.5,327.7 1425,327.9 1426.5,328.1 1428,328.2 1429.5,328.4 1431,328.6 1432.5,328.8 1434,328.9 1435.5,329.1 1437,329.3 1438.5,329.4 1439.4,329.5 1440,329.6 1441.5,329.8 1443,329.9 1444.5,330.1 1446,330.2 1447.5,330.4 1449,330.6 1450.5,330.7 1452,330.9 1453.5,331 1455,331.2 1456.5,331.3 1458,331.5 1459.5,331.6 1461,331.8 1462.5,331.9 1464,332.1 1465.5,332.2 1467,332.4 1468.5,332.5 1470,332.7 1471.5,332.8 1473,332.9 1474.5,333.1 1476,333.2 1477.5,333.4 1479,333.5 1479.3,333.5 1480.5,333.6 1482,333.8 1483.5,333.9 1485,334 1486.5,334.1 1488,334.3 1489.5,334.4 1491,334.5 1492.5,334.6 1494,334.8 1495.5,334.9 1497,335 1498.5,335.1 1500,335.2 1501.5,335.4 1503,335.5 1504.5,335.6 1506,335.7 1507.5,335.8 1509,335.9 1510.5,336.1 1512,336.2 1513.5,336.3 1515,336.4 1516.5,336.5 1518.1,336.6 1519.1,336.7 1519.6,336.7 1521.1,336.8 1522.6,337 1524.1,337.1 1525.6,337.2 1527.1,337.3 1528.6,337.4 1530.1,337.5 1531.6,337.6 1533.1,337.7 1534.6,337.8 1536.1,337.9 1537.6,338 1539.1,338.1 1540.6,338.2 1542.1,338.3 1543.6,338.4 1545.1,338.5 1546.6,338.6 1548.1,338.7 1549.6,338.8 1551.1,338.9 1552.6,339 1554.1,339.1 1555.6,339.3 1557.1,339.4 1558.6,339.5 1559,339.5 1560.1,339.6 1561.6,339.7 1563.1,339.8 1564.6,339.9 1566.1,340 1567.6,340.1 1569.1,340.2 1570.6,340.3 1572.1,340.4 1573.6,340.5 1575.1,340.6 1576.6,340.7 1578.1,340.8 1579.6,340.9 1581.1,341 1582.6,341.1 1584.1,341.2 1585.6,341.3 1587.1,341.4 1588.6,341.5 1590.1,341.6 1591.6,341.7 1593.1,341.9 1594.6,342 1596.1,342.1 1597.6,342.2 1598.9,342.3 1599.1,342.3 1600.6,342.4 1602.1,342.5 1603.6,342.7 1605.1,342.8 1606.6,343 1608.1,343.1 1609.6,343.3 1611.1,343.4 1612.6,343.6 1614.1,343.8 1615.6,343.9 1617.1,344.1 1618.6,344.2 1620.1,344.4 1621.6,344.5 1623.1,344.7 1624.6,344.8 1626.1,344.9 1627.6,345 1629.1,345.1 1630.6,345.2 1632.1,345.3 1633.6,345.4 1635.1,345.4 1636.6,345.5 1638.1,345.5 1638.8,345.5 1639.6,345.5 1641.1,345.4 1642.6,345.3 1644.1,345.2 1645.6,345 1647.1,344.8 1648.6,344.7 1650.1,344.5 1651.6,344.4 1653.1,344.3 1654.6,344.3 1654.8,344.3 1656.1,344.4 1657.6,344.7 1659.1,345.2 1660.6,345.8 1662.1,346.6 1663.6,347.3 1665.1,348 1666.6,348.6 1668.1,349.1 1669.6,349.4 1670.7,349.5 1671.1,349.5 1672.6,349.5 1674.1,349.5 1675.6,349.5 1677.1,349.4 1678.6,349.4 1680.1,349.4 1681.6,349.4 1683.1,349.4 1684.6,349.4 1686.1,349.3 1687.6,349.3 1689.1,349.3 1690.6,349.3 1692.1,349.2 1693.6,349.2 1695.1,349.2 1696.6,349.1 1698.1,349.1 1699.6,349.1 1701.1,349 1702.6,349 1704.1,349 1705.6,348.9 1707.1,348.9 1708.6,348.9 1710.1,348.8 1711.6,348.8 1713.1,348.8 1714.6,348.7 1716.1,348.7 1717.6,348.7 1718.6,348.7 1719.1,348.7 1720.6,348.6 1722.1,348.6 1723.6,348.6 1725.1,348.5 1726.6,348.5 1728.1,348.5 1729.6,348.5 1731.1,348.4 1732.6,348.4 1734.1,348.4 1735.6,348.3 1737.1,348.3 1738.6,348.3 1740.1,348.3 1741.6,348.2 1743.1,348.2 1744.6,348.2 1746.1,348.1 1747.6,348.1 1749.1,348.1 1750.6,348 1752.1,348 1753.6,348 1755.1,348 1756.6,347.9 1758.1,347.9 1759.6,347.9 1761.1,347.8 1762.6,347.8 1764.1,347.8 1765.6,347.7 1767.1,347.7 1768.6,347.7 1770.1,347.6 1771.6,347.6 1772.9,347.6 1773.1,347.6 1774.6,347.5 1776.1,347.5 1777.6,347.5 1779.1,347.4 1780.6,347.4 1782.1,347.3 1783.6,347.3 1785.1,347.3 1786.6,347.2 1788.1,347.2 1789.6,347.2 1791.1,347.1 1792.6,347.1 1794.1,347 1795.6,347 1797.1,347 1798.6,346.9 1800.1,346.9 1801.6,346.8 1803.1,346.8 1804.6,346.8 1806.1,346.7 1807.6,346.7 1809.1,346.6 1810.6,346.6 1812.2,346.5 1813.7,346.5 1815.2,346.5 1816.7,346.4 1818.2,346.4 1819.7,346.3 1821.2,346.3 1822.7,346.3 1824.2,346.2 1825.7,346.2 1827.2,346.2 1828.7,346.1 1830.2,346.1 1831.7,346 1833.2,346 1834.7,346 1836.2,345.9 1837.7,345.9 1839.2,345.9 1840.7,345.8 1842.2,345.8 1843.7,345.8 1845.2,345.8 1845.7,345.7 1846.7,345.7 1848.2,345.7 1849.7,345.7 1851.2,345.6 1852.7,345.6 1854.2,345.6 1855.7,345.6 1857.2,345.5 1858.7,345.5 1860.2,345.5 1861.7,345.5 1863.2,345.5 1864.7,345.4 1866.2,345.4 1867.7,345.4 1869.2,345.4 1870.7,345.3 1872.2,345.3 1873.7,345.3 1875.2,345.3 1876.7,345.3 1878.2,345.2 1879.7,345.2 1881.2,345.2 1882.7,345.2 1884.2,345.2 1885.7,345.1 1887.2,345.1 1888.7,345.1 1890.2,345.1 1891.7,345.1 1893.2,345 1894.7,345 1896.2,345 1897.7,345 1899.2,345 1900.7,344.9 1902.2,344.9 1903.7,344.9 1905.2,344.9 1906.7,344.8 1908.2,344.8 1909.7,344.8 1911.2,344.8 1912.7,344.7 1914.2,344.7 1915.7,344.7 1917.2,344.7 1918.6,344.7 1918.7,344.7 1920.2,344.6 1921.7,344.6 1923.2,344.6 1924.7,344.5 1926.2,344.5 1927.7,344.5 1929.2,344.5 1930.7,344.4 1932.2,344.4 1933.7,344.4 1935.2,344.4 1936.7,344.3 1938.2,344.3 1939.7,344.3 1941.2,344.3 1942.7,344.2 1944.2,344.2 1945.7,344.2 1947.2,344.2 1948.7,344.1 1950.2,344.1 1951.7,344.1 1953.2,344 1954.7,344 1956.2,344 1957.7,344 1959.2,343.9 1960.7,343.9 1962.2,343.9 1963.7,343.8 1965.2,343.8 1966.7,343.8 1968.2,343.7 1969.7,343.7 1971.2,343.7 1972.7,343.6 1974.2,343.6 1975.7,343.6 1977.2,343.5 1978.7,343.5 1980.2,343.5 1981.7,343.4 1983.2,343.4 1984.7,343.4 1986.2,343.3 1987.7,343.3 1989.2,343.3 1990.7,343.2 1991.5,343.2 1992.2,343.2 1993.7,343.1 1995.2,343.1 1996.7,343 1998.2,343 1999.7,343 2001.2,342.9 2002.7,342.9 2004.2,342.8 2005.7,342.8 2007.2,342.7 2008.7,342.7 2010.2,342.6 2011.7,342.6 2013.2,342.5 2014.7,342.4 2016.2,342.4 2017.7,342.3 2019.2,342.3 2020.7,342.2 2022.2,342.2 2023.7,342.1 2025.2,342 2026.7,342 2028.2,341.9 2029.7,341.9 2031.2,341.8 2032.7,341.7 2034.2,341.7 2035.7,341.6 2037.2,341.5 2038.7,341.5 2040.2,341.4 2041.7,341.3 2043.2,341.3 2044.7,341.2 2046.2,341.1 2047.7,341.1 2049.2,341 2050.7,340.9 2052.2,340.9 2053.7,340.8 2055.2,340.7 2056.7,340.6 2058.2,340.6 2059.7,340.5 2061.2,340.4 2062.7,340.4 2064.2,340.3 2064.4,340.3 2065.7,340.2 2067.2,340.1 2068.7,340.1 2070.2,340 2071.7,339.9 2073.2,339.8 2074.7,339.8 2076.2,339.7 2077.7,339.6 2079.2,339.5 2080.7,339.4 2082.2,339.3 2083.7,339.3 2085.2,339.2 2086.7,339.1 2088.2,339 2089.7,338.9 2091.2,338.8 2092.7,338.7 2094.2,338.6 2095.7,338.5 2097.2,338.5 2098.7,338.4 2100.2,338.3 2101.7,338.2 2103.2,338.1 2104.7,338 2106.2,337.9 2107.8,337.8 2109.3,337.7 2110.8,337.6 2112.3,337.5 2113.8,337.4 2115.3,337.3 2116.8,337.2 2118.3,337.1 2119.8,337 2121.3,336.9 2122.8,336.8 2124.3,336.7 2125.8,336.6 2127.3,336.5 2128.8,336.4 2130.3,336.4 2131.8,336.3 2133.3,336.2 2134.8,336.1 2136.3,336 2137.2,335.9 2137.8,335.9 2139.3,335.8 2140.8,335.7 2142.3,335.6 2143.8,335.5 2145.3,335.4 2146.8,335.3 2148.3,335.2 2149.8,335.1 2151.3,335 2152.8,334.9 2154.3,334.8 2155.8,334.7 2157.3,334.6 2158.8,334.5 2160.3,334.4 2161.8,334.3 2163.3,334.2 2164.8,334.1 2166.3,334 2167.8,333.9 2169.3,333.8 2170.8,333.7 2172.3,333.6 2173.8,333.5 2175.3,333.4 2176.8,333.3 2178.3,333.2 2179.8,333.1 2181.3,333 2182.8,332.9 2184.3,332.8 2185.8,332.7 2187.3,332.6 2188.8,332.5 2190.3,332.4 2191.8,332.3 2193.3,332.2 2194.8,332.1 2196.3,332 2197.8,331.9 2199.3,331.8 2200.8,331.7 2202.3,331.6 2203.8,331.5 2205.3,331.4 2206.8,331.3 2208.3,331.2 2210.6,331.2" fill="none" stroke="#ff0000" stroke-width="9.4" />
<polyline points="445.6,1318 448.1,1299.9 448.5,1296 449.6,1286.6 451,1277 451.1,1276.3 452.6,1268.2 454,1262 454.1,1261.5 455.6,1256.4 457.1,1251.9 458,1249 458.6,1246.6 460.1,1240.1 461.6,1234.5 461.9,1233.8 463.1,1230.9 464.6,1227.7 466.1,1224.8 467.6,1222.1 469.2,1219.7 470.7,1217.5 472.2,1215.5 473.7,1213.5 475.2,1211.6 476.7,1209.8 478.2,1208 479.7,1206.1 481.2,1204.1 482.7,1202.1 483.8,1200.4 484.2,1199.9 485.7,1197.6 487.2,1195.3 488.7,1193 490.2,1190.8 491.7,1188.5 493.2,1186.2 494.7,1184 496.2,1181.8 497.7,1179.6 499.2,1177.4 500.7,1175.2 501.4,1174.3 502.2,1173 503.7,1170.5 505.2,1167.8 506.7,1165.2 508.2,1162.8 509.7,1160.9 511.2,1159.8 512.3,1159.5 512.7,1159.5 514.3,1159.5 515.8,1159.5 517.3,1159.5 518.8,1159.5 520.3,1159.5 521.8,1159.5 523.3,1159.5 523.3,1159.5 524.8,1157.6 526.3,1153.4 527.7,1149.2 527.8,1148.8 529.3,1144.4 530.8,1139.6 532.3,1134.4 533.8,1128.8 534.2,1127.1 535.3,1122.5 536.8,1115.1 538.3,1106.9 539.8,1098.5 541.3,1090.1 542.8,1082.2 544.3,1075.3 545.2,1071.8 545.8,1069.5 547.3,1064.4 548.8,1059.5 550.3,1055 551.8,1050.7 553.3,1046.6 554.8,1042.8 556.3,1039.1 557.9,1035.4 558.3,1034.3 559.4,1031.9 560.9,1028.5 562.4,1025.2 563.9,1022 565.4,1018.9 566.9,1015.9 568.4,1013.1 569.9,1010.5 571.4,1007.9 571.5,1007.8 572.9,1005.6 574.4,1003.3 575.9,1001.1 577.4,998.9 578.9,996.9 580.4,994.9 581.9,993 583.4,991.1 584.9,989.2 586.4,987.4 587.9,985.6 589.4,983.8 590.9,982 592.4,980.2 593.4,979.1 593.9,978.4 595.4,976.6 596.9,974.9 598.4,973.1 599.9,971.4 601.4,969.6 603,967.9 604.5,966.2 606,964.6 607.5,962.9 609,961.3 610.5,959.7 612,958.2 613.5,956.6 615,955.1 615.3,954.8 616.5,953.6 618,952.1 619.5,950.6 621,949.2 622.5,947.7 624,946.3 625.5,944.9 627,943.5 628.5,942.1 630,940.8 631.5,939.5 633,938.2 634.5,937 636,935.8 637.2,934.9 637.5,934.7 639,933.6 640.5,932.5 642,931.4 643.5,930.4 645,929.4 646.6,928.5 648.1,927.5 649.6,926.6 651.1,925.8 652.6,924.9 654.1,925.3 655.7,926.2 657.3,927.6 658.9,929.4 660.4,931.4 661.3,932.7 662,933.8 663.6,937.8 665.2,943.2 666.7,949.6 667.9,954.8 668.3,956.8 669.9,966.8 671.5,978.1 672.3,983.5 673,988 674.6,997.3 676.2,1006.1 677.8,1014.4 679.3,1007.2 680.8,996.8 681.1,994.5 682.3,983.3 683.8,966 685.3,945.1 686.8,920.9 688.3,893.5 689.8,863.3 690.6,844.3 691.3,828.1 692.8,781 692.8,780.7 694.3,734.8 694.9,717.7 695.8,692.6 697.3,656.7 697.4,654.4 698.8,633.2 700.3,614.7 701.6,601.6 701.8,600.3 703.3,588.7 704.8,579 706.3,570.9 706.5,569.9 707.8,564.3 709.3,558.7 710.8,553.6 712.3,548.7 713.4,544.6 713.8,543.4 715.3,537.4 716.8,531.4 718.3,525.6 719.8,520.7 720.2,519.6 721.3,516.9 722.8,513.6 724.3,510.6 725.8,507.9 727.3,505.2 727.9,504 728.8,502.4 730.3,499.6 731.8,497 733.3,494.4 734.8,491.8 735.9,490 736.3,489.4 737.8,487 739.3,484.7 740.8,482.5 742.3,480.3 743.8,478.2 743.9,478 745.3,476 746.8,473.9 748.3,471.8 749.8,469.7 751.3,467.8 751.9,467.1 752.8,465.9 754.3,464.2 755.8,462.5 757.3,460.9 758.8,459.2 759.8,458.1 760.3,457.6 761.8,455.9 763.3,454.2 764.8,452.5 766.3,450.8 767.8,449.2 769.3,447.6 769.8,447.1 770.8,446.2 772.3,444.7 773.8,443.4 775.3,442 776.8,440.7 778.3,439.4 779.8,438.1 779.8,438.1 781.3,436.9 782.8,435.7 784.3,434.5 785.8,433.3 787.3,432.1 788.8,430.9 789.8,430.2 790.3,429.7 791.8,428.5 793.3,427.3 794.8,426.1 796.3,424.9 797.8,423.7 799.3,422.5 799.7,422.2 800.8,421.4 802.3,420.3 803.8,419.3 805.3,418.2 806.8,417.2 808.3,416.2 809.7,415.2 809.8,415.1 811.3,414.1 812.8,413 814.3,411.9 815.8,410.9 817.3,409.8 818.8,408.8 819.7,408.2 820.3,407.8 821.8,406.8 823.3,405.9 824.8,405 826.3,404.1 827.8,403.1 829.3,402.2 829.7,402 830.8,401.3 832.3,400.3 833.8,399.4 835.3,398.5 836.8,397.5 838.3,396.6 839.6,395.8 839.8,395.6 841.3,394.7 842.8,393.7 844.3,392.8 845.8,391.8 847.3,390.9 848.8,390 849.6,389.5 850.3,389.1 851.8,388.3 853.3,387.5 854.8,386.7 856.3,386 857.8,385.2 859.3,384.4 859.6,384.3 860.8,383.6 862.3,382.8 863.8,382.1 865.3,381.3 866.8,380.5 868.3,379.7 869.5,379.1 869.8,378.9 871.3,378.1 872.8,377.3 874.3,376.5 875.8,375.7 877.3,374.9 878.8,374.2 879.5,373.8 880.3,373.4 881.8,372.8 883.3,372.1 884.8,371.5 886.3,370.9 887.8,370.3 889.3,369.7 889.5,369.6 890.8,369 892.3,368.3 893.8,367.7 895.3,367 896.8,366.4 898.3,365.8 899.5,365.3 899.8,365.2 901.3,364.7 902.8,364.2 904.3,363.7 905.8,363.2 907.3,362.8 908.8,362.3 909.4,362.1 910.3,361.8 911.8,361.3 913.3,360.8 914.8,360.3 916.3,359.8 917.8,359.3 919.3,358.9 919.4,358.9 920.8,358.4 922.3,358 923.8,357.5 925.3,357.1 926.8,356.7 928.3,356.3 929.4,356 929.9,355.9 931.4,355.5 932.9,355.2 934.4,354.9 935.9,354.5 937.4,354.2 938.9,353.9 939.4,353.8 940.4,353.6 941.9,353.2 943.4,352.9 944.9,352.6 946.4,352.3 947.9,352 949.3,351.7 949.4,351.7 950.9,351.4 952.4,351.1 953.9,350.8 955.4,350.6 956.9,350.3 958.4,350 959.3,349.9 959.9,349.8 961.4,349.6 962.9,349.4 964.4,349.2 965.9,349 967.4,348.9 968.9,348.7 969.3,348.6 970.4,348.5 971.9,348.3 973.4,348.1 974.9,347.9 976.4,347.7 977.9,347.5 979.3,347.4 979.4,347.4 980.9,347.2 982.4,347.1 983.9,347 985.4,346.8 986.9,346.7 988.4,346.6 989.2,346.5 989.9,346.5 991.4,346.4 992.9,346.3 994.4,346.2 995.9,346.1 997.4,346 998.9,345.9 1000,345.9 1000.4,345.9 1001.9,345.8 1003.4,345.7 1004.9,345.7 1006.4,345.6 1007.9,345.6 1009.4,345.5 1010.9,345.5 1012.4,345.4 1013.9,345.4 1015.4,345.3 1016.9,345.3 1018.4,345.2 1019,345.2 1019.9,345.2 1021.4,345.1 1022.9,345 1024.4,344.9 1025.9,344.9 1027.4,344.8 1028.9,344.7 1030.4,344.6 1031.9,344.6 1033.4,344.5 1034.9,344.4 1036.4,344.4 1037.9,344.4 1038.9,344.4 1039.4,344.4 1040.9,344.4 1042.4,344.4 1043.9,344.4 1045.4,344.4 1046.9,344.4 1048.4,344.4 1049.9,344.4 1051.4,344.4 1052.9,344.4 1054.4,344.4 1055.9,344.4 1057.4,344.4 1058.9,344.4 1060.4,344.4 1061.9,344.4 1063.4,344.4 1064.9,344.4 1066.4,344.4 1067.9,344.4 1069.4,344.4 1070.9,344.4 1072.4,344.4 1073.9,344.4 1075.4,344.4 1076.9,344.4 1078.4,344.4 1078.8,344.4 1079.9,344.4 1081.4,344.4 1082.9,344.4 1084.4,344.4 1085.9,344.4 1087.4,344.4 1088.9,344.5 1090.4,344.5 1091.9,344.5 1093.4,344.5 1094.9,344.6 1096.4,344.6 1097.9,344.6 1099.4,344.7 1100.9,344.7 1102.4,344.8 1103.9,344.8 1105.4,344.8 1106.9,344.9 1108.4,344.9 1109.9,345 1111.4,345 1112.9,345 1114.4,345.1 1115.9,345.1 1117.4,345.2 1118.7,345.2 1118.9,345.2 1120.4,345.2 1121.9,345.3 1123.4,345.3 1124.9,345.3 1126.4,345.4 1127.9,345.4 1129.4,345.5 1130.9,345.5 1132.4,345.5 1133.9,345.6 1135.4,345.6 1136.9,345.7 1138.4,345.7 1139.9,345.8 1141.4,345.8 1142.9,345.9 1144.4,345.9 1145.9,346 1147.4,346 1148.9,346.1 1150.4,346.1 1151.9,346.2 1153.4,346.2 1154.9,346.3 1156.4,346.3 1157.9,346.4 1158.6,346.4 1159.4,346.4 1160.9,346.5 1162.4,346.5 1163.9,346.6 1165.4,346.6 1166.9,346.7 1168.4,346.7 1169.9,346.7 1171.4,346.8 1172.9,346.8 1174.4,346.9 1175.9,346.9 1177.4,347 1178.9,347.1 1180.4,347.1 1181.9,347.2 1183.4,347.2 1184.9,347.3 1186.4,347.3 1187.9,347.4 1189.4,347.5 1190.9,347.6 1192.4,347.6 1193.9,347.7 1195.4,347.8 1196.9,347.9 1198.4,348 1198.5,348 1199.9,348.1 1201.4,348.2 1202.9,348.4 1204.4,348.5 1205.9,348.7 1207.4,348.9 1208.9,349.2 1210.4,349.4 1211.9,349.7 1213.4,349.9 1214.9,350.2 1216.4,350.5 1217.9,350.8 1219.4,351 1220.9,351.3 1222.4,351.6 1224,351.9 1225.5,352.2 1227,352.4 1228.5,352.7 1230,353 1231.5,353.2 1233,353.4 1234.5,353.6 1236,353.8 1237.5,354 1239,354.2 1239.9,354.3 1240.5,354.3 1242,354.4 1243.5,354.5 1245,354.7 1246.5,354.8 1248,354.9 1249.5,355 1251,355.1 1252.5,355.2 1254,355.3 1255.5,355.4 1257,355.5 1258.5,355.6 1260,355.6 1261.5,355.7 1263,355.8 1264.5,355.9 1266,356 1267.5,356 1269,356.1 1270.5,356.2 1272,356.3 1273.5,356.3 1275,356.4 1276.5,356.5 1278,356.6 1279.5,356.6 1279.8,356.6 1281,356.7 1282.5,356.8 1284,356.8 1285.5,356.9 1287,357 1288.5,357 1290,357.1 1291.5,357.2 1293,357.2 1294.5,357.3 1296,357.4 1297.5,357.4 1299,357.5 1300.5,357.5 1302,357.6 1303.5,357.7 1305,357.7 1306.5,357.8 1308,357.8 1309.5,357.9 1311,357.9 1312.5,358 1314,358 1315.5,358.1 1317,358.2 1318.5,358.2 1319.7,358.2 1320,358.3 1321.5,358.3 1323,358.4 1324.5,358.4 1326,358.5 1327.5,358.5 1329,358.6 1330.5,358.6 1332,358.7 1333.5,358.7 1335,358.8 1336.5,358.8 1338,358.8 1339.5,358.9 1341,358.9 1342.5,359 1344,359 1345.5,359.1 1347,359.1 1348.5,359.2 1350,359.2 1351.5,359.2 1353,359.3 1354.5,359.3 1356,359.4 1357.5,359.4 1359,359.4 1359.6,359.4 1360.5,359.5 1362,359.5 1363.5,359.5 1365,359.6 1366.5,359.6 1368,359.6 1369.5,359.7 1371,359.7 1372.5,359.7 1374,359.8 1375.5,359.8 1377,359.8 1378.5,359.9 1380,359.9 1381.5,359.9 1383,360 1384.5,360 1386,360 1387.5,360 1389,360.1 1390.5,360.1 1392,360.1 1393.5,360.2 1395,360.2 1396.5,360.2 1398,360.2 1399.5,360.2 1399.5,360.2 1401,360.3 1402.5,360.3 1404,360.3 1405.5,360.3 1407,360.3 1408.5,360.4 1410,360.4 1411.5,360.4 1413,360.4 1414.5,360.4 1416,360.5 1417.5,360.5 1419,360.5 1420.5,360.5 1422,360.5 1423.5,360.6 1425,360.6 1426.5,360.6 1428,360.6 1429.5,360.6 1431,360.6 1432.5,360.6 1434,360.6 1435.5,360.6 1437,360.6 1438.5,360.6 1439.4,360.6 1440,360.6 1441.5,360.6 1443,360.6 1444.5,360.6 1446,360.6 1447.5,360.6 1449,360.6 1450.5,360.6 1452,360.6 1453.5,360.6 1455,360.6 1456.5,360.6 1458,360.6 1459.5,360.6 1461,360.6 1462.5,360.6 1464,360.6 1465.5,360.6 1467,360.6 1468.5,360.6 1470,360.6 1471.5,360.6 1473,360.6 1474.5,360.6 1476,360.6 1477.5,360.6 1479,360.6 1479.3,360.6 1480.5,360.6 1482,360.6 1483.5,360.6 1485,360.6 1486.5,360.6 1488,360.6 1489.5,360.6 1491,360.6 1492.5,360.6 1494,360.6 1495.5,360.6 1497,360.5 1498.5,360.5 1500,360.5 1501.5,360.5 1503,360.5 1504.5,360.4 1506,360.4 1507.5,360.4 1509,360.4 1510.5,360.4 1512,360.3 1513.5,360.3 1515,360.3 1516.5,360.3 1518.1,360.3 1519.1,360.2 1519.6,360.2 1521.1,360.2 1522.6,360.2 1524.1,360.2 1525.6,360.1 1527.1,360.1 1528.6,360 1530.1,360 1531.6,360 1533.1,359.9 1534.6,359.9 1536.1,359.8 1537.6,359.8 1539.1,359.7 1540.6,359.7 1542.1,359.6 1543.6,359.6 1545.1,359.5 1546.6,359.5 1548.1,359.4 1549.6,359.4 1551.1,359.3 1552.6,359.3 1554.1,359.2 1555.6,359.2 1557.1,359.1 1558.6,359.1 1559,359 1560.1,359 1561.6,359 1563.1,358.9 1564.6,358.8 1566.1,358.8 1567.6,358.7 1569.1,358.7 1570.6,358.6 1572.1,358.6 1573.6,358.5 1575.1,358.5 1576.6,358.4 1578.1,358.3 1579.6,358.3 1581.1,358.2 1582.6,358.1 1584.1,358.1 1585.6,358 1587.1,358 1588.6,357.9 1590.1,357.8 1591.6,357.8 1593.1,357.7 1594.6,357.6 1596.1,357.6 1597.6,357.5 1598.9,357.4 1599.1,357.4 1600.6,357.4 1602.1,357.3 1603.6,357.2 1605.1,357.2 1606.6,357.1 1608.1,357.1 1609.6,357 1611.1,356.9 1612.6,356.9 1614.1,356.8 1615.6,356.7 1617.1,356.7 1618.6,356.6 1620.1,356.5 1621.6,356.4 1623.1,356.4 1624.6,356.3 1626.1,356.2 1627.6,356.1 1629.1,356.1 1630.6,356 1632.1,355.9 1633.6,355.8 1635.1,355.7 1636.6,355.6 1638.1,355.5 1638.8,355.5 1639.6,355.4 1641.1,355.3 1642.6,355.1 1644.1,354.9 1645.6,354.7 1647.1,354.5 1648.6,354.3 1650.1,354.1 1651.6,353.9 1653.1,353.8 1654.6,353.6 1656.1,353.5 1657.6,353.5 1658.8,353.5 1659.1,353.5 1660.6,353.8 1662.1,354.6 1663.6,355.6 1665.1,356.7 1666.6,357.8 1668.1,358.7 1669.6,359.3 1670.7,359.4 1671.1,359.4 1672.6,359.4 1674.1,359.4 1675.6,359.3 1677.1,359.3 1678.6,359.2 1680.1,359.1 1681.6,359 1683.1,358.9 1684.6,358.8 1686.1,358.8 1687.6,358.7 1689.1,358.6 1690.6,358.5 1692.1,358.4 1693.6,358.3 1695.1,358.3 1696.6,358.3 1698.1,358.2 1698.7,358.2 1699.6,358.4 1700,358.5 1701.1,358.5 1702.6,358.5 1704.1,358.5 1705.6,358.4 1707.1,358.4 1708.6,358.4 1710.1,358.3 1711.6,358.2 1713.1,358.2 1714.6,358.1 1716.1,358 1717.6,357.9 1719.1,357.8 1720.6,357.7 1722.1,357.6 1723.6,357.5 1725.1,357.4 1726.6,357.3 1728.1,357.2 1729.6,357.1 1731.1,356.9 1732.6,356.8 1734.1,356.7 1735.6,356.5 1737.1,356.4 1738.6,356.2 1740.1,356.1 1741.6,355.9 1743.1,355.8 1744.6,355.7 1746.1,355.5 1747.6,355.4 1749.1,355.2 1750.6,355.1 1752.1,354.9 1753.6,354.8 1755.1,354.6 1756.6,354.5 1758.1,354.3 1759.6,354.2 1761.1,354 1762.6,353.9 1764.1,353.8 1765.6,353.6 1767.1,353.5 1768.6,353.4 1770.1,353.2 1771.6,353.1 1772.9,353 1773.1,353 1774.6,352.9 1776.1,352.8 1777.6,352.7 1779.1,352.6 1780.6,352.4 1782.1,352.3 1783.6,352.2 1785.1,352.1 1786.6,352 1788.1,351.9 1789.6,351.8 1791.1,351.6 1792.6,351.5 1794.1,351.4 1795.6,351.3 1797.1,351.2 1798.6,351.1 1800.1,351 1801.6,350.8 1803.1,350.7 1804.6,350.6 1806.1,350.5 1807.6,350.4 1809.1,350.3 1810.6,350.1 1812.2,350 1813.7,349.9 1815.2,349.8 1816.7,349.7 1818.2,349.6 1819.7,349.5 1821.2,349.4 1822.7,349.2 1824.2,349.1 1825.7,349 1827.2,348.9 1828.7,348.8 1830.2,348.7 1831.7,348.6 1833.2,348.5 1834.7,348.4 1836.2,348.2 1837.7,348.1 1839.2,348 1840.7,347.9 1842.2,347.8 1843.7,347.7 1845.2,347.6 1845.7,347.6 1846.7,347.5 1848.2,347.4 1849.7,347.3 1851.2,347.2 1852.7,347.1 1854.2,347 1855.7,346.9 1857.2,346.8 1858.7,346.7 1860.2,346.6 1861.7,346.5 1863.2,346.4 1864.7,346.3 1866.2,346.2 1867.7,346.1 1869.2,346 1870.7,345.9 1872.2,345.8 1873.7,345.7 1875.2,345.6 1876.7,345.5 1878.2,345.4 1879.7,345.3 1881.2,345.2 1882.7,345.1 1884.2,345 1885.7,344.9 1887.2,344.8 1888.7,344.7 1890.2,344.6 1891.7,344.5 1893.2,344.4 1894.7,344.3 1896.2,344.2 1897.7,344.1 1899.2,344 1900.7,344 1902.2,343.9 1903.7,343.8 1905.2,343.7 1906.7,343.6 1908.2,343.5 1909.7,343.4 1911.2,343.3 1912.7,343.2 1914.2,343.1 1915.7,343 1917.2,342.9 1918.6,342.8 1918.7,342.8 1920.2,342.7 1921.7,342.6 1923.2,342.5 1924.7,342.5 1926.2,342.4 1927.7,342.3 1929.2,342.2 1930.7,342.1 1932.2,342 1933.7,341.9 1935.2,341.8 1936.7,341.7 1938.2,341.6 1939.7,341.5 1941.2,341.4 1942.7,341.4 1944.2,341.3 1945.7,341.2 1947.2,341.1 1948.7,341 1950.2,340.9 1951.7,340.8 1953.2,340.7 1954.7,340.6 1956.2,340.6 1957.7,340.5 1959.2,340.4 1960.7,340.3 1962.2,340.2 1963.7,340.1 1965.2,340 1966.7,339.9 1968.2,339.8 1969.7,339.8 1971.2,339.7 1972.7,339.6 1974.2,339.5 1975.7,339.4 1977.2,339.3 1978.7,339.2 1980.2,339.1 1981.7,339 1983.2,339 1984.7,338.9 1986.2,338.8 1987.7,338.7 1989.2,338.6 1990.7,338.5 1991.5,338.5 1992.2,338.4 1993.7,338.3 1995.2,338.2 1996.7,338.1 1998.2,338.1 1999.7,338 2001.2,337.9 2002.7,337.8 2004.2,337.7 2005.7,337.6 2007.2,337.5 2008.7,337.4 2010.2,337.3 2011.7,337.3 2013.2,337.2 2014.7,337.1 2016.2,337 2017.7,336.9 2019.2,336.8 2020.7,336.7 2022.2,336.6 2023.7,336.5 2025.2,336.5 2026.7,336.4 2028.2,336.3 2029.7,336.2 2031.2,336.1 2032.7,336 2034.2,335.9 2035.7,335.8 2037.2,335.7 2038.7,335.6 2040.2,335.6 2041.7,335.5 2043.2,335.4 2044.7,335.3 2046.2,335.2 2047.7,335.1 2049.2,335 2050.7,334.9 2052.2,334.8 2053.7,334.7 2055.2,334.6 2056.7,334.6 2058.2,334.5 2059.7,334.4 2061.2,334.3 2062.7,334.2 2064.2,334.1 2064.4,334.1 2065.7,334 2067.2,333.9 2068.7,333.8 2070.2,333.7 2071.7,333.6 2073.2,333.5 2074.7,333.4 2076.2,333.3 2077.7,333.2 2079.2,333.1 2080.7,333 2082.2,333 2083.7,332.9 2085.2,332.8 2086.7,332.7 2088.2,332.6 2089.7,332.5 2091.2,332.4 2092.7,332.3 2094.2,332.2 2095.7,332.1 2097.2,332 2098.7,331.9 2100.2,331.8 2101.7,331.7 2103.2,331.6 2104.7,331.5 2106.2,331.4 2107.8,331.3 2109.3,331.2 2110.8,331.1 2112.3,331 2113.8,330.9 2115.3,330.8 2116.8,330.7 2118.3,330.6 2119.8,330.5 2121.3,330.4 2122.8,330.3 2124.3,330.2 2125.8,330.1 2127.3,330 2128.8,329.9 2130.3,329.8 2131.8,329.7 2133.3,329.6 2134.8,329.5 2136.3,329.4 2137.2,329.3 2137.8,329.3 2139.3,329.2 2140.8,329.1 2142.3,329 2143.8,328.9 2145.3,328.8 2146.8,328.7 2148.3,328.6 2149.8,328.5 2151.3,328.4 2152.8,328.3 2154.3,328.2 2155.8,328.1 2157.3,328 2158.8,327.9 2160.3,327.8 2161.8,327.7 2163.3,327.6 2164.8,327.5 2166.3,327.4 2167.8,327.3 2169.3,327.2 2170.8,327.1 2172.3,327 2173.8,326.9 2175.3,326.8 2176.8,326.7 2178.3,326.6 2179.8,326.5 2181.3,326.4 2182.8,326.3 2184.3,326.2 2185.8,326.1 2187.3,326 2188.8,325.9 2190.3,325.8 2191.8,325.7 2193.3,325.6 2194.8,325.5 2196.3,325.4 2197.8,325.3 2199.3,325.2 2200.8,325.1 2202.3,325 2203.8,324.9 2205.3,324.8 2206.8,324.7 2208.3,324.6 2210.6,324.6" fill="none" stroke="#0000ff" stroke-width="9.4" />
<polyline points="445.6,1246.2 448.1,1244.1 449.6,1241.9 451.1,1239.6 452.6,1237.4 454.1,1235.1 455.6,1232.9 457.1,1230.6 458.6,1228.2 460.1,1225.9 461.6,1223.5 461.9,1223 463.1,1221.1 464.6,1218.7 466.1,1216.2 467.6,1213.7 469.1,1211.1 470.6,1208.6 472.1,1206 473.6,1203.4 475.1,1200.9 476.6,1198.3 478.1,1195.7 479.7,1193.1 481.2,1190.6 482.7,1188 483.8,1186.1 484.2,1185.5 485.7,1183 487.2,1180.5 488.7,1178 490.2,1175.5 491.7,1172.9 493.2,1170.4 494.7,1168 496.2,1165.5 497.7,1163.1 499.2,1160.6 500.7,1158.3 501.4,1157.2 502.2,1155.8 503.7,1153 505.2,1150 506.7,1147.1 508.2,1144.5 509.7,1142.4 511.2,1141.1 512.3,1140.8 512.7,1140.8 514.2,1140.8 515.7,1140.8 517.2,1140.8 518.7,1140.8 520.2,1140.8 521.8,1140.8 523.3,1140.8 523.3,1140.8 524.8,1138.8 526.3,1134.1 527.7,1129.3 527.8,1129 529.3,1124.2 530.8,1118.9 532.3,1113.1 533.8,1106.8 534.2,1104.9 535.3,1099.9 536.8,1091.7 538.3,1082.7 539.8,1073.3 541.3,1064.1 542.8,1055.3 544.3,1047.6 545.2,1043.8 545.8,1041.3 547.3,1035.5 548.8,1030.1 550.3,1025.1 551.8,1020.4 553.3,1015.9 554.8,1011.6 556.3,1007.5 557.8,1003.5 558.3,1002.2 559.3,999.6 560.8,995.8 562.3,992.1 563.9,988.6 565.4,985.1 566.9,981.9 568.4,978.8 569.9,975.8 571.4,973 571.5,972.8 572.9,970.4 574.4,967.9 575.9,965.4 577.4,963.1 578.9,960.8 580.4,958.6 581.9,956.4 583.4,954.3 584.9,952.3 586.4,950.3 587.9,948.3 589.4,946.3 590.9,944.3 592.4,942.3 593.4,941 593.9,940.3 595.4,938.4 596.9,936.4 598.4,934.4 599.9,932.5 601.4,930.6 602.9,928.7 604.4,926.9 606,925 607.5,923.2 609,921.4 610.5,919.6 612,917.9 613.5,916.2 615,914.5 615.3,914.1 616.5,912.8 618,911.2 619.5,909.6 621,907.9 622.5,906.3 624,904.7 625.5,903.2 627,901.6 628.5,900.1 630,898.6 631.5,897.2 633,895.8 634.5,894.4 636,893.1 637.2,892.1 637.5,891.9 639,890.7 640.5,889.5 642,888.3 643.5,887.2 645,886.1 646.5,885 648.1,884 649.6,883 651.1,882 652.6,881.1 654.1,881.5 655.7,882.5 657.3,884 658.9,886 660.4,888.3 661.3,889.7 662,891 663.6,895.4 665.2,901.3 666.7,908.4 667.9,914.1 668.3,916.4 669.9,927.5 671.5,940 672.3,945.9 673,951 674.6,961.2 676.2,970.9 677.8,980.2 679.3,972.7 680.8,960.8 681.1,958.2 682.3,944.4 683.8,921.4 685.3,893.1 686.8,860.7 687.5,844.3 688.3,822.8 689.6,781 689.8,775.7 691.3,730.7 691.7,717.7 692.8,685 693.8,654.4 694.3,642.5 695.8,605.8 695.9,601.6 697,569.9 697.3,565.3 698.8,548.1 700.3,536 701.2,527.7 701.8,521.7 703.3,505.8 704,499.5 704.8,493.6 706.3,483.9 707.8,475.6 708,474.5 709.3,468 710.8,460.8 712.3,454.5 713.8,449.2 714,448.6 715.3,444.8 716.8,441.1 718.3,437.8 719.8,434.9 719.9,434.7 721.3,432.5 722.8,430.2 724.3,428.2 725.8,426.3 727.3,424.6 728.8,422.9 729.9,421.7 730.3,421.3 731.8,419.8 733.3,418.4 734.8,417 736.3,415.7 737.8,414.5 739.3,413.2 739.9,412.7 740.8,412 742.3,410.7 743.8,409.5 745.3,408.3 746.8,407.1 748.3,405.9 749.8,404.8 749.9,404.7 751.3,403.7 752.8,402.6 754.3,401.5 755.8,400.5 757.3,399.4 758.8,398.4 759.8,397.8 760.3,397.5 761.8,396.5 763.3,395.6 764.8,394.7 766.3,393.8 767.8,392.9 769.3,392.1 769.8,391.8 770.8,391.2 772.3,390.5 773.8,389.7 775.3,389 776.8,388.2 778.3,387.5 779.8,386.8 779.8,386.8 781.3,386 782.8,385.2 784.3,384.5 785.8,383.7 787.3,382.9 788.8,382.2 789.8,381.8 790.3,381.6 791.8,380.9 793.3,380.3 794.8,379.7 796.3,379.1 797.8,378.6 799.3,378 799.7,377.8 800.8,377.4 802.3,376.8 803.8,376.1 805.3,375.5 806.8,374.9 808.3,374.3 809.7,373.8 809.8,373.8 811.3,373.2 812.8,372.7 814.3,372.2 815.8,371.7 817.3,371.2 818.8,370.7 819.7,370.4 820.3,370.2 821.8,369.7 823.3,369.2 824.8,368.7 826.3,368.2 827.8,367.7 829.3,367.2 829.7,367.1 830.8,366.7 832.3,366.3 833.8,365.8 835.3,365.3 836.8,364.9 838.3,364.5 839.6,364.1 839.8,364.1 841.3,363.7 842.8,363.3 844.3,363 845.8,362.7 847.3,362.3 848.8,362 849.6,361.8 850.3,361.6 851.8,361.3 853.3,360.9 854.8,360.5 856.3,360.2 857.8,359.8 859.3,359.5 859.6,359.4 860.8,359.2 862.3,358.9 863.8,358.6 865.3,358.4 866.8,358.1 868.3,357.9 869.5,357.7 869.8,357.6 871.3,357.4 872.8,357.2 874.3,356.9 875.8,356.7 877.3,356.5 878.8,356.2 879.5,356.1 880.3,356 881.8,355.8 883.3,355.6 884.8,355.4 886.3,355.2 887.8,355 889.3,354.8 889.5,354.8 890.8,354.6 892.3,354.4 893.8,354.3 895.3,354.1 896.8,353.9 898.3,353.7 899.5,353.6 899.8,353.6 901.3,353.4 902.8,353.3 904.3,353.1 905.8,352.9 907.3,352.8 908.8,352.6 910.3,352.5 911.8,352.3 913.3,352.2 914.8,352.1 916.3,351.9 917.8,351.8 919.3,351.7 919.4,351.7 920.8,351.6 922.3,351.5 923.8,351.4 925.3,351.3 926.8,351.2 928.3,351.2 929.9,351.1 931.4,351 932.9,350.9 934.4,350.8 935.9,350.8 937.4,350.7 938.9,350.6 939.4,350.6 940.4,350.6 941.9,350.5 943.4,350.4 944.9,350.3 946.4,350.3 947.9,350.2 949.4,350.1 950.9,350.1 952.4,350 953.9,350 955.4,349.9 956.9,349.9 958.4,349.9 959.3,349.9 959.9,349.9 961.4,349.9 962.9,349.9 964.4,350 965.9,350 967.4,350 968.9,350.1 970.4,350.1 971.9,350.1 973.4,350.2 974.9,350.2 976.4,350.2 977.9,350.3 979.3,350.3 979.4,350.3 980.9,350.3 982.4,350.3 983.9,350.3 985.4,350.3 986.9,350.3 988.4,350.3 989.9,350.3 991.4,350.3 992.9,350.3 994.4,350.3 995.9,350.3 997.4,350.3 998.9,350.3 1000,350.3 1000.4,350.3 1001.9,350.3 1003.4,350.3 1004.9,350.3 1006.4,350.3 1007.9,350.3 1009.4,350.4 1010.9,350.4 1012.4,350.4 1013.9,350.5 1015.4,350.5 1016.9,350.5 1018.4,350.6 1019.9,350.6 1021.4,350.7 1022.9,350.7 1024.4,350.8 1025.9,350.8 1027.4,350.9 1028.9,350.9 1030.4,350.9 1031.9,351 1033.4,351 1034.9,351.1 1036.4,351.1 1037.9,351.1 1038.9,351.2 1039.4,351.2 1040.9,351.2 1042.4,351.2 1043.9,351.3 1045.4,351.3 1046.9,351.3 1048.4,351.4 1049.9,351.4 1051.4,351.4 1052.9,351.4 1054.4,351.5 1055.9,351.5 1057.4,351.5 1058.9,351.6 1060.4,351.6 1061.9,351.6 1063.4,351.6 1064.9,351.7 1066.4,351.7 1067.9,351.7 1069.4,351.8 1070.9,351.8 1072.4,351.8 1073.9,351.9 1075.4,351.9 1076.9,351.9 1078.4,352 1078.8,352 1079.9,352 1081.4,352 1082.9,352.1 1084.4,352.1 1085.9,352.2 1087.4,352.2 1088.9,352.2 1090.4,352.3 1091.9,352.3 1093.4,352.4 1094.9,352.4 1096.4,352.5 1097.9,352.5 1099.4,352.6 1100.9,352.6 1102.4,352.7 1103.9,352.7 1105.4,352.8 1106.9,352.8 1108.4,352.9 1109.9,352.9 1111.4,353 1112.9,353 1114.4,353.1 1115.9,353.1 1117.4,353.1 1118.7,353.2 1118.9,353.2 1120.4,353.2 1121.9,353.2 1123.4,353.3 1124.9,353.3 1126.4,353.3 1127.9,353.4 1129.4,353.4 1130.9,353.4 1132.4,353.5 1133.9,353.5 1135.4,353.5 1136.9,353.6 1138.4,353.6 1139.9,353.6 1141.4,353.7 1142.9,353.7 1144.4,353.7 1145.9,353.8 1147.4,353.8 1148.9,353.8 1150.4,353.8 1151.9,353.9 1153.4,353.9 1154.9,353.9 1156.4,353.9 1157.9,354 1158.6,354 1159.4,354 1160.9,354 1162.4,354 1163.9,354 1165.4,354 1166.9,354.1 1168.4,354.1 1169.9,354.1 1171.4,354.1 1172.9,354.1 1174.4,354.1 1175.9,354.1 1177.4,354.1 1178.9,354.2 1180.4,354.2 1181.9,354.2 1183.4,354.2 1184.9,354.2 1186.4,354.2 1187.9,354.2 1189.4,354.3 1190.9,354.3 1192.4,354.3 1193.9,354.3 1195.4,354.3 1196.9,354.3 1198.4,354.4 1198.5,354.4 1199.9,354.4 1201.4,354.4 1202.9,354.4 1204.4,354.5 1205.9,354.5 1207.4,354.5 1208.9,354.6 1210.4,354.6 1211.9,354.7 1213.4,354.7 1214.9,354.8 1216.4,354.8 1217.9,354.9 1219.4,354.9 1220.9,355 1222.4,355 1224,355.1 1225.5,355.1 1227,355.2 1228.5,355.2 1230,355.2 1231.5,355.3 1233,355.3 1234.5,355.4 1236,355.4 1237.5,355.4 1239,355.4 1239.9,355.5 1240.5,355.5 1242,355.5 1243.5,355.5 1245,355.5 1246.5,355.5 1248,355.6 1249.5,355.6 1251,355.6 1252.5,355.6 1254,355.7 1255.5,355.7 1257,355.7 1258.5,355.7 1260,355.7 1261.5,355.7 1263,355.8 1264.5,355.8 1266,355.8 1267.5,355.8 1269,355.8 1270.5,355.8 1272,355.8 1273.5,355.8 1275,355.8 1276.5,355.8 1278,355.8 1279.5,355.9 1279.8,355.9 1281,355.9 1282.5,355.8 1284,355.8 1285.5,355.8 1287,355.8 1288.5,355.8 1290,355.8 1291.5,355.8 1293,355.8 1294.5,355.8 1296,355.8 1297.5,355.8 1299,355.7 1300.5,355.7 1302,355.7 1303.5,355.7 1305,355.7 1306.5,355.6 1308,355.6 1309.5,355.6 1311,355.6 1312.5,355.6 1314,355.5 1315.5,355.5 1317,355.5 1318.5,355.5 1319.7,355.5 1320,355.4 1321.5,355.4 1323,355.4 1324.5,355.4 1326,355.3 1327.5,355.3 1329,355.3 1330.5,355.2 1332,355.2 1333.5,355.1 1335,355.1 1336.5,355 1338,355 1339.5,355 1341,354.9 1342.5,354.9 1344,354.8 1345.5,354.8 1347,354.7 1348.5,354.6 1350,354.6 1351.5,354.5 1353,354.5 1354.5,354.4 1356,354.4 1357.5,354.3 1359,354.3 1359.6,354.3 1360.5,354.2 1362,354.2 1363.5,354.1 1365,354.1 1366.5,354 1368,354 1369.5,353.9 1371,353.8 1372.5,353.8 1374,353.7 1375.5,353.7 1377,353.6 1378.5,353.5 1380,353.5 1381.5,353.4 1383,353.4 1384.5,353.3 1386,353.2 1387.5,353.2 1389,353.1 1390.5,353.1 1392,353 1393.5,352.9 1395,352.9 1396.5,352.8 1398,352.7 1399.5,352.7 1399.5,352.7 1401,352.6 1402.5,352.5 1404,352.5 1405.5,352.4 1407,352.3 1408.5,352.2 1410,352.2 1411.5,352.1 1413,352 1414.5,352 1416,351.9 1417.5,351.8 1419,351.7 1420.5,351.7 1422,351.6 1423.5,351.5 1425,351.4 1426.5,351.3 1428,351.3 1429.5,351.2 1431,351.1 1432.5,351 1434,351 1435.5,350.9 1437,350.8 1438.5,350.7 1439.4,350.7 1440,350.6 1441.5,350.5 1443,350.5 1444.5,350.4 1446,350.3 1447.5,350.2 1449,350.1 1450.5,350 1452,349.9 1453.5,349.9 1455,349.8 1456.5,349.7 1458,349.6 1459.5,349.5 1461,349.4 1462.5,349.3 1464,349.2 1465.5,349.1 1467,349 1468.5,349 1470,348.9 1471.5,348.8 1473,348.7 1474.5,348.6 1476,348.5 1477.5,348.4 1479,348.3 1479.3,348.3 1480.5,348.2 1482,348.1 1483.5,348 1485,347.9 1486.5,347.8 1488,347.7 1489.5,347.6 1491,347.5 1492.5,347.4 1494,347.3 1495.5,347.2 1497,347.1 1498.5,346.9 1500,346.8 1501.5,346.7 1503,346.6 1504.5,346.5 1506,346.4 1507.5,346.3 1509,346.2 1510.5,346.1 1512,346 1513.5,345.9 1515,345.8 1516.5,345.7 1518.1,345.6 1519.1,345.5 1519.6,345.5 1521.1,345.3 1522.6,345.2 1524.1,345.1 1525.6,345 1527.1,344.9 1528.6,344.8 1530.1,344.7 1531.6,344.6 1533.1,344.5 1534.6,344.4 1536.1,344.3 1537.6,344.2 1539.1,344.1 1540.6,344 1542.1,343.8 1543.6,343.7 1545.1,343.6 1546.6,343.5 1548.1,343.4 1549.6,343.3 1551.1,343.2 1552.6,343.1 1554.1,343 1555.6,342.9 1557.1,342.8 1558.6,342.7 1559,342.7 1560.1,342.6 1561.6,342.5 1563.1,342.4 1564.6,342.3 1566.1,342.3 1567.6,342.2 1569.1,342.1 1570.6,342 1572.1,341.9 1573.6,341.8 1575.1,341.7 1576.6,341.7 1578.1,341.6 1579.6,341.5 1581.1,341.4 1582.6,341.3 1584.1,341.2 1585.6,341.2 1587.1,341.1 1588.6,341 1590.1,340.9 1591.6,340.8 1593.1,340.7 1594.6,340.6 1596.1,340.5 1597.6,340.4 1598.9,340.3 1599.1,340.3 1600.6,340.2 1602.1,340 1603.6,339.9 1605.1,339.7 1606.6,339.6 1608.1,339.4 1609.6,339.3 1611.1,339.1 1612.6,338.9 1614.1,338.7 1615.6,338.5 1617.1,338.4 1618.6,338.2 1620.1,338 1621.6,337.8 1623.1,337.7 1624.6,337.5 1626.1,337.4 1627.6,337.2 1629.1,337.1 1630.6,337 1632.1,336.9 1633.6,336.8 1635.1,336.8 1636.6,336.7 1638.1,336.7 1638.8,336.7 1639.6,336.7 1641.1,337 1642.6,337.4 1644.1,337.9 1645.6,338.2 1646.8,338.3 1647.1,338.3 1648.6,338.1 1650.1,337.8 1651.6,337.3 1653.1,336.8 1654.6,336.3 1656.1,335.9 1657.6,335.6 1658.8,335.5 1659.1,335.5 1660.6,336 1662.1,337 1663.6,338.3 1665.1,339.8 1666.6,341.3 1668.1,342.5 1669.6,343.3 1670.7,343.5 1671.1,343.5 1672.6,343.5 1674.1,343.4 1675.6,343.4 1677.1,343.3 1678.6,343.2 1680.1,343.1 1681.6,343 1683.1,342.9 1684.6,342.7 1686.1,342.6 1687.6,342.4 1689.1,342.2 1690.6,342 1692.1,341.8 1693.6,341.5 1695.1,341.3 1696.6,341.1 1698.1,340.8 1698.7,340.7 1699.6,340.4 1700,340.3 1701.1,340 1702.6,339.7 1704.1,339.4 1705.6,339.1 1707.1,338.8 1708.6,338.5 1710.1,338.2 1711.6,337.9 1713.1,337.6 1714.6,337.3 1716.1,337.1 1717.6,336.8 1719.1,336.6 1720.6,336.3 1722.1,336.1 1723.6,335.9 1725.1,335.6 1726.6,335.4 1728.1,335.2 1729.6,335 1731.1,334.8 1732.6,334.5 1734.1,334.3 1735.6,334.1 1737.1,333.9 1738.6,333.7 1740.1,333.6 1741.6,333.4 1743.1,333.2 1744.6,333 1746.1,332.8 1747.6,332.6 1749.1,332.4 1750.6,332.2 1752.1,332 1753.6,331.9 1755.1,331.7 1756.6,331.5 1758.1,331.3 1759.6,331.1 1761.1,330.9 1762.6,330.7 1764.1,330.5 1765.6,330.3 1767.1,330.1 1768.6,329.9 1770.1,329.7 1771.6,329.5 1772.9,329.3 1773.1,329.3 1774.6,329.1 1776.1,328.9 1777.6,328.7 1779.1,328.5 1780.6,328.2 1782.1,328 1783.6,327.8 1785.1,327.6 1786.6,327.4 1788.1,327.2 1789.6,327 1791.1,326.7 1792.6,326.5 1794.1,326.3 1795.6,326.1 1797.1,325.9 1798.6,325.7 1800.1,325.5 1801.6,325.3 1803.1,325 1804.6,324.8 1806.1,324.6 1807.6,324.4 1809.1,324.2 1810.6,324 1812.2,323.8 1813.7,323.6 1815.2,323.4 1816.7,323.2 1818.2,323 1819.7,322.8 1821.2,322.6 1822.7,322.4 1824.2,322.2 1825.7,322 1827.2,321.8 1828.7,321.6 1830.2,321.4 1831.7,321.2 1833.2,321 1834.7,320.8 1836.2,320.7 1837.7,320.5 1839.2,320.3 1840.7,320.1 1842.2,319.9 1843.7,319.8 1845.2,319.6 1845.7,319.5 1846.7,319.4 1848.2,319.2 1849.7,319.1 1851.2,318.9 1852.7,318.7 1854.2,318.6 1855.7,318.4 1857.2,318.2 1858.7,318 1860.2,317.9 1861.7,317.7 1863.2,317.6 1864.7,317.4 1866.2,317.2 1867.7,317.1 1869.2,316.9 1870.7,316.7 1872.2,316.6 1873.7,316.4 1875.2,316.3 1876.7,316.1 1878.2,315.9 1879.7,315.8 1881.2,315.6 1882.7,315.5 1884.2,315.3 1885.7,315.2 1887.2,315 1888.7,314.9 1890.2,314.7 1891.7,314.6 1893.2,314.5 1894.7,314.3 1896.2,314.2 1897.7,314 1899.2,313.9 1900.7,313.8 1902.2,313.6 1903.7,313.5 1905.2,313.3 1906.7,313.2 1908.2,313.1 1909.7,313 1911.2,312.8 1912.7,312.7 1914.2,312.6 1915.7,312.5 1917.2,312.3 1918.6,312.2 1918.7,312.2 1920.2,312.1 1921.7,312 1923.2,311.9 1924.7,311.8 1926.2,311.7 1927.7,311.5 1929.2,311.4 1930.7,311.3 1932.2,311.2 1933.7,311.1 1935.2,311 1936.7,310.9 1938.2,310.8 1939.7,310.7 1941.2,310.6 1942.7,310.5 1944.2,310.4 1945.7,310.3 1947.2,310.3 1948.7,310.2 1950.2,310.1 1951.7,310 1953.2,309.9 1954.7,309.8 1956.2,309.7 1957.7,309.6 1959.2,309.5 1960.7,309.4 1962.2,309.3 1963.7,309.3 1965.2,309.2 1966.7,309.1 1968.2,309 1969.7,308.9 1971.2,308.8 1972.7,308.7 1974.2,308.6 1975.7,308.5 1977.2,308.4 1978.7,308.3 1980.2,308.2 1981.7,308.1 1983.2,308 1984.7,307.9 1986.2,307.8 1987.7,307.7 1989.2,307.6 1990.7,307.5 1991.5,307.5 1992.2,307.4 1993.7,307.3 1995.2,307.2 1996.7,307.1 1998.2,307 1999.7,306.9 2001.2,306.8 2002.7,306.7 2004.2,306.6 2005.7,306.5 2007.2,306.4 2008.7,306.2 2010.2,306.1 2011.7,306 2013.2,305.9 2014.7,305.8 2016.2,305.7 2017.7,305.6 2019.2,305.5 2020.7,305.4 2022.2,305.2 2023.7,305.1 2025.2,305 2026.7,304.9 2028.2,304.8 2029.7,304.7 2031.2,304.6 2032.7,304.4 2034.2,304.3 2035.7,304.2 2037.2,304.1 2038.7,304 2040.2,303.9 2041.7,303.7 2043.2,303.6 2044.7,303.5 2046.2,303.4 2047.7,303.3 2049.2,303.2 2050.7,303.1 2052.2,302.9 2053.7,302.8 2055.2,302.7 2056.7,302.6 2058.2,302.5 2059.7,302.4 2061.2,302.3 2062.7,302.1 2064.2,302 2064.4,302 2065.7,301.9 2067.2,301.8 2068.7,301.7 2070.2,301.6 2071.7,301.5 2073.2,301.4 2074.7,301.2 2076.2,301.1 2077.7,301 2079.2,300.9 2080.7,300.8 2082.2,300.7 2083.7,300.6 2085.2,300.4 2086.7,300.3 2088.2,300.2 2089.7,300.1 2091.2,300 2092.7,299.9 2094.2,299.7 2095.7,299.6 2097.2,299.5 2098.7,299.4 2100.2,299.3 2101.7,299.2 2103.2,299.1 2104.7,298.9 2106.2,298.8 2107.8,298.7 2109.3,298.6 2110.8,298.5 2112.3,298.4 2113.8,298.3 2115.3,298.2 2116.8,298 2118.3,297.9 2119.8,297.8 2121.3,297.7 2122.8,297.6 2124.3,297.5 2125.8,297.4 2127.3,297.3 2128.8,297.2 2130.3,297.1 2131.8,296.9 2133.3,296.8 2134.8,296.7 2136.3,296.6 2137.2,296.6 2137.8,296.5 2139.3,296.4 2140.8,296.3 2142.3,296.2 2143.8,296.1 2145.3,296 2146.8,295.9 2148.3,295.8 2149.8,295.7 2151.3,295.6 2152.8,295.5 2154.3,295.4 2155.8,295.3 2157.3,295.2 2158.8,295.1 2160.3,295 2161.8,294.9 2163.3,294.8 2164.8,294.7 2166.3,294.6 2167.8,294.5 2169.3,294.3 2170.8,294.2 2172.3,294.1 2173.8,294 2175.3,293.9 2176.8,293.8 2178.3,293.8 2179.8,293.7 2181.3,293.6 2182.8,293.5 2184.3,293.4 2185.8,293.3 2187.3,293.2 2188.8,293.1 2190.3,293 2191.8,292.9 2193.3,292.8 2194.8,292.7 2196.3,292.6 2197.8,292.5 2199.3,292.4 2200.8,292.3 2202.3,292.2 2203.8,292.1 2205.3,292 2206.8,291.9 2208.3,291.8 2210.6,291.8" fill="none" stroke="#128a8a" stroke-width="9.4" />
<polyline points="445.6,1249.2 448.1,1247.1 449.6,1245 451.1,1242.9 452.6,1240.7 454.1,1238.5 455.6,1236.3 457.1,1234.1 458.6,1231.8 460.1,1229.6 461.6,1227.3 461.9,1226.8 463.1,1224.9 464.6,1222.6 466.1,1220.2 467.6,1217.8 469.1,1215.3 470.6,1212.9 472.1,1210.4 473.6,1207.9 475.1,1205.4 476.6,1202.9 478.1,1200.4 479.7,1197.9 481.2,1195.5 482.7,1193 483.8,1191.1 484.2,1190.6 485.7,1188.2 487.2,1185.7 488.7,1183.3 490.2,1180.9 491.7,1178.4 493.2,1176 494.7,1173.6 496.2,1171.2 497.7,1168.9 499.2,1166.5 500.7,1164.2 501.4,1163.2 502.2,1161.9 503.7,1159.2 505.2,1156.3 506.7,1153.5 508.2,1151 509.7,1149 511.2,1147.7 512.3,1147.4 512.7,1147.4 514.2,1147.4 515.7,1147.4 517.2,1147.4 518.7,1147.4 520.2,1147.4 521.8,1147.4 523.3,1147.4 523.3,1147.4 524.8,1145.4 526.3,1140.9 527.7,1136.3 527.8,1136 529.3,1131.3 530.8,1126.2 532.3,1120.6 533.8,1114.6 534.2,1112.7 535.3,1107.9 536.8,1100 538.3,1091.3 539.8,1082.2 541.3,1073.2 542.8,1064.8 544.3,1057.4 545.2,1053.6 545.8,1051.2 547.3,1045.7 548.8,1040.5 550.3,1035.6 551.8,1031.1 553.3,1026.7 554.8,1022.6 556.3,1018.6 557.8,1014.7 558.3,1013.5 559.3,1011 560.8,1007.3 562.3,1003.7 563.9,1000.3 565.4,997 566.9,993.9 568.4,990.9 569.9,988 571.4,985.3 571.5,985.1 572.9,982.8 574.4,980.3 575.9,978 577.4,975.7 578.9,973.5 580.4,971.4 581.9,969.3 583.4,967.3 584.9,965.3 586.4,963.3 587.9,961.4 589.4,959.5 590.9,957.6 592.4,955.7 593.4,954.4 593.9,953.7 595.4,951.8 596.9,949.9 598.4,948 599.9,946.2 601.4,944.3 602.9,942.5 604.4,940.7 606,938.9 607.5,937.2 609,935.5 610.5,933.8 612,932.1 613.5,930.4 615,928.8 615.3,928.4 616.5,927.2 618,925.6 619.5,924 621,922.4 622.5,920.9 624,919.3 625.5,917.8 627,916.3 628.5,914.9 630,913.5 631.5,912.1 633,910.7 634.5,909.4 636,908.1 637.2,907.2 637.5,906.9 639,905.7 640.5,904.6 642,903.5 643.5,902.4 645,901.3 646.5,900.3 648.1,899.3 649.6,898.4 651.1,897.4 652.6,896.5 654.1,896.9 655.7,897.9 657.3,899.4 658.9,901.3 660.4,903.5 661.3,904.8 662,906.1 663.6,910.3 665.2,916 666.7,922.9 667.9,928.4 668.3,930.6 669.9,941.3 671.5,953.4 672.3,959.1 673,964 674.6,973.9 676.2,983.3 677.8,992.2 679.3,984.3 680.8,973.3 681.1,971 682.3,959.5 683.8,942.5 685.3,922.1 686.8,898.3 688.3,871.2 689.6,844.3 689.8,840.3 691.3,794.6 691.7,781 692.8,749 693.8,717.7 694.3,703.4 695.8,657.9 695.9,654.4 697.3,629.3 698.8,606.5 699.1,601.6 700.3,582.9 701.2,569.9 701.8,562.9 703.3,545.6 704.8,531.9 705.4,527.7 706.3,523.6 707.8,518.1 709.3,513.8 710.8,509.3 712,505 712.3,503.6 713.8,496 715.3,488.1 716,485 716.8,481.7 718.3,476 719.8,471.5 719.9,471.1 721.3,468.2 722.8,465.6 724.3,463.4 725.8,461.3 725.9,461.1 727.3,459.3 728.8,457.5 730.3,455.8 731.8,454.2 731.9,454.1 733.3,452.8 734.8,451.4 736.3,450.1 737.8,448.8 739.3,447.6 739.9,447.1 740.8,446.4 742.3,445.3 743.8,444.2 745.3,443.2 746.8,442.2 748.3,441.2 749.8,440.2 749.9,440.1 751.3,439.2 752.8,438.3 754.3,437.4 755.8,436.5 757.3,435.6 758.8,434.7 759.8,434.2 760.3,433.9 761.8,433.1 763.3,432.3 764.8,431.6 766.3,430.8 767.8,430.1 769.3,429.4 769.8,429.2 770.8,428.7 772.3,428 773.8,427.3 775.3,426.7 776.8,426 778.3,425.4 779.8,424.8 779.8,424.8 781.3,424.2 782.8,423.6 784.3,423.1 785.8,422.5 787.3,422 788.8,421.5 789.8,421.2 790.3,421 791.8,420.5 793.3,420.1 794.8,419.6 796.3,419.2 797.8,418.8 799.3,418.3 799.7,418.2 800.8,417.9 802.3,417.4 803.8,417 805.3,416.5 806.8,416 808.3,415.6 809.7,415.2 809.8,415.2 811.3,414.8 812.8,414.4 814.3,414 815.8,413.6 817.3,413.2 818.8,412.8 819.7,412.6 820.3,412.4 821.8,412 823.3,411.6 824.8,411.2 826.3,410.7 827.8,410.3 829.3,409.9 829.7,409.8 830.8,409.5 832.3,409.2 833.8,408.8 835.3,408.4 836.8,408.1 838.3,407.7 839.6,407.5 839.8,407.4 841.3,407.1 842.8,406.8 844.3,406.6 845.8,406.3 847.3,406.1 848.8,405.8 849.6,405.7 850.3,405.5 851.8,405.3 853.3,405.1 854.8,404.8 856.3,404.6 857.8,404.3 859.3,404.1 859.6,404.1 860.8,403.9 862.3,403.7 863.8,403.5 865.3,403.3 866.8,403 868.3,402.8 869.5,402.7 869.8,402.7 871.3,402.5 872.8,402.3 874.3,402.1 875.8,401.9 877.3,401.7 878.8,401.6 879.5,401.5 880.3,401.4 881.8,401.3 883.3,401.1 884.8,400.9 886.3,400.8 887.8,400.7 889.3,400.5 889.5,400.5 890.8,400.4 892.3,400.3 893.8,400.1 895.3,400 896.8,399.9 898.3,399.8 899.5,399.7 899.8,399.7 901.3,399.6 902.8,399.5 904.3,399.4 905.8,399.4 907.3,399.3 908.8,399.2 910.3,399.1 911.8,399.1 913.3,399 914.8,398.9 916.3,398.9 917.8,398.8 919.3,398.7 919.4,398.7 920.8,398.7 922.3,398.6 923.8,398.5 925.3,398.5 926.8,398.4 928.3,398.4 929.9,398.3 931.4,398.3 932.9,398.2 934.4,398.1 935.9,398.1 937.4,398 938.9,398 939.4,398 940.4,397.9 941.9,397.8 943.4,397.8 944.9,397.7 946.4,397.6 947.9,397.5 949.4,397.5 950.9,397.4 952.4,397.3 953.9,397.3 955.4,397.2 956.9,397.2 958.4,397.2 959.3,397.2 959.9,397.2 961.4,397.2 962.9,397.2 964.4,397.2 965.9,397.2 967.4,397.2 968.9,397.1 970.4,397.1 971.9,397.1 973.4,397.1 974.9,397.1 976.4,397.1 977.9,397.1 979.3,397.1 979.4,397.1 980.9,397.1 982.4,397.2 983.9,397.2 985.4,397.2 986.9,397.3 988.4,397.3 989.9,397.4 991.4,397.4 992.9,397.5 994.4,397.5 995.9,397.6 997.4,397.7 998.9,397.7 1000,397.7 1000.4,397.8 1001.9,397.8 1003.4,397.8 1004.9,397.9 1006.4,397.9 1007.9,398 1009.4,398 1010.9,398.1 1012.4,398.1 1013.9,398.2 1015.4,398.2 1016.9,398.3 1018.4,398.3 1019.9,398.4 1021.4,398.4 1022.9,398.5 1024.4,398.5 1025.9,398.6 1027.4,398.6 1028.9,398.7 1030.4,398.7 1031.9,398.8 1033.4,398.8 1034.9,398.9 1036.4,398.9 1037.9,399 1038.9,399 1039.4,399.1 1040.9,399.1 1042.4,399.2 1043.9,399.3 1045.4,399.3 1046.9,399.4 1048.4,399.5 1049.9,399.5 1051.4,399.6 1052.9,399.7 1054.4,399.8 1055.9,399.8 1057.4,399.9 1058.9,400 1060.4,400.1 1061.9,400.1 1063.4,400.2 1064.9,400.3 1066.4,400.4 1067.9,400.5 1069.4,400.5 1070.9,400.6 1072.4,400.7 1073.9,400.8 1075.4,400.9 1076.9,400.9 1078.4,401 1078.8,401 1079.9,401.1 1081.4,401.2 1082.9,401.2 1084.4,401.3 1085.9,401.4 1087.4,401.5 1088.9,401.6 1090.4,401.6 1091.9,401.7 1093.4,401.8 1094.9,401.9 1096.4,401.9 1097.9,402 1099.4,402.1 1100.9,402.2 1102.4,402.2 1103.9,402.3 1105.4,402.4 1106.9,402.5 1108.4,402.5 1109.9,402.6 1111.4,402.7 1112.9,402.8 1114.4,402.8 1115.9,402.9 1117.4,403 1118.7,403 1118.9,403 1120.4,403.1 1121.9,403.2 1123.4,403.2 1124.9,403.3 1126.4,403.4 1127.9,403.4 1129.4,403.5 1130.9,403.6 1132.4,403.6 1133.9,403.7 1135.4,403.7 1136.9,403.8 1138.4,403.9 1139.9,403.9 1141.4,404 1142.9,404 1144.4,404.1 1145.9,404.2 1147.4,404.2 1148.9,404.3 1150.4,404.3 1151.9,404.4 1153.4,404.4 1154.9,404.5 1156.4,404.6 1157.9,404.6 1158.6,404.6 1159.4,404.7 1160.9,404.7 1162.4,404.8 1163.9,404.8 1165.4,404.8 1166.9,404.9 1168.4,404.9 1169.9,405 1171.4,405 1172.9,405 1174.4,405.1 1175.9,405.1 1177.4,405.2 1178.9,405.2 1180.4,405.2 1181.9,405.3 1183.4,405.3 1184.9,405.4 1186.4,405.4 1187.9,405.5 1189.4,405.5 1190.9,405.5 1192.4,405.6 1193.9,405.7 1195.4,405.7 1196.9,405.8 1198.4,405.8 1198.5,405.8 1199.9,405.9 1201.4,406 1202.9,406 1204.4,406.1 1205.9,406.2 1207.4,406.3 1208.9,406.4 1210.4,406.5 1211.9,406.6 1213.4,406.7 1214.9,406.8 1216.4,406.9 1217.9,407 1219.4,407.1 1220.9,407.3 1222.4,407.4 1224,407.5 1225.5,407.6 1227,407.7 1228.5,407.8 1230,407.9 1231.5,408 1233,408.1 1234.5,408.2 1236,408.3 1237.5,408.4 1239,408.5 1239.9,408.5 1240.5,408.5 1242,408.6 1243.5,408.7 1245,408.8 1246.5,408.8 1248,408.9 1249.5,409 1251,409 1252.5,409.1 1254,409.1 1255.5,409.2 1257,409.3 1258.5,409.3 1260,409.4 1261.5,409.4 1263,409.5 1264.5,409.6 1266,409.6 1267.5,409.7 1269,409.7 1270.5,409.8 1272,409.8 1273.5,409.9 1275,409.9 1276.5,410 1278,410 1279.5,410.1 1279.8,410.1 1281,410.1 1282.5,410.2 1284,410.3 1285.5,410.3 1287,410.4 1288.5,410.4 1290,410.5 1291.5,410.6 1293,410.6 1294.5,410.7 1296,410.7 1297.5,410.8 1299,410.8 1300.5,410.9 1302,411 1303.5,411 1305,411.1 1306.5,411.1 1308,411.1 1309.5,411.2 1311,411.2 1312.5,411.2 1314,411.3 1315.5,411.3 1317,411.3 1318.5,411.3 1319.7,411.3 1320,411.3 1321.5,411.3 1323,411.3 1324.5,411.3 1326,411.3 1327.5,411.3 1329,411.3 1330.5,411.3 1332,411.3 1333.5,411.3 1335,411.3 1336.5,411.3 1338,411.3 1339.5,411.3 1341,411.3 1342.5,411.3 1344,411.3 1345.5,411.3 1347,411.3 1348.5,411.3 1350,411.3 1351.5,411.3 1353,411.3 1354.5,411.3 1356,411.3 1357.5,411.3 1359,411.3 1359.6,411.3 1360.5,411.3 1362,411.3 1363.5,411.3 1365,411.3 1366.5,411.3 1368,411.2 1369.5,411.2 1371,411.2 1372.5,411.2 1374,411.1 1375.5,411.1 1377,411.1 1378.5,411 1380,411 1381.5,411 1383,410.9 1384.5,410.9 1386,410.9 1387.5,410.8 1389,410.8 1390.5,410.7 1392,410.7 1393.5,410.7 1395,410.6 1396.5,410.6 1398,410.5 1399.5,410.5 1399.5,410.5 1401,410.5 1402.5,410.4 1404,410.4 1405.5,410.4 1407,410.3 1408.5,410.3 1410,410.2 1411.5,410.2 1413,410.2 1414.5,410.1 1416,410.1 1417.5,410 1419,410 1420.5,409.9 1422,409.9 1423.5,409.8 1425,409.8 1426.5,409.8 1428,409.7 1429.5,409.7 1431,409.6 1432.5,409.6 1434,409.5 1435.5,409.4 1437,409.4 1438.5,409.3 1439.4,409.3 1440,409.3 1441.5,409.2 1443,409.2 1444.5,409.1 1446,409 1447.5,408.9 1449,408.9 1450.5,408.8 1452,408.7 1453.5,408.6 1455,408.6 1456.5,408.5 1458,408.4 1459.5,408.3 1461,408.2 1462.5,408.1 1464,408 1465.5,408 1467,407.9 1468.5,407.8 1470,407.7 1471.5,407.7 1473,407.6 1474.5,407.5 1476,407.4 1477.5,407.4 1479,407.3 1479.3,407.3 1480.5,407.3 1482,407.2 1483.5,407.2 1485,407.1 1486.5,407.1 1488,407 1489.5,407 1491,406.9 1492.5,406.9 1494,406.8 1495.5,406.8 1497,406.8 1498.5,406.7 1500,406.7 1501.5,406.6 1503,406.6 1504.5,406.6 1506,406.5 1507.5,406.5 1509,406.4 1510.5,406.4 1512,406.3 1513.5,406.3 1515,406.3 1516.5,406.2 1518.1,406.2 1519.1,406.1 1519.6,406.1 1521.1,406.1 1522.6,406 1524.1,405.9 1525.6,405.9 1527.1,405.8 1528.6,405.8 1530.1,405.7 1531.6,405.7 1533.1,405.6 1534.6,405.6 1536.1,405.5 1537.6,405.4 1539.1,405.4 1540.6,405.3 1542.1,405.3 1543.6,405.2 1545.1,405.1 1546.6,405.1 1548.1,405 1549.6,405 1551.1,404.9 1552.6,404.8 1554.1,404.8 1555.6,404.7 1557.1,404.6 1558.6,404.5 1559,404.5 1560.1,404.5 1561.6,404.4 1563.1,404.3 1564.6,404.2 1566.1,404.2 1567.6,404.1 1569.1,404 1570.6,403.9 1572.1,403.8 1573.6,403.7 1575.1,403.6 1576.6,403.6 1578.1,403.5 1579.6,403.4 1581.1,403.3 1582.6,403.2 1584.1,403.1 1585.6,403 1587.1,402.9 1588.6,402.8 1590.1,402.7 1591.6,402.6 1593.1,402.5 1594.6,402.4 1596.1,402.3 1597.6,402.2 1598.9,402.1 1599.1,402.1 1600.6,402 1602.1,401.9 1603.6,401.8 1605.1,401.7 1606.6,401.6 1608.1,401.5 1609.6,401.4 1611.1,401.3 1612.6,401.2 1614.1,401.1 1615.6,401 1617.1,400.9 1618.6,400.8 1620.1,400.6 1621.6,400.5 1623.1,400.4 1624.6,400.3 1626.1,400.2 1627.6,400.1 1629.1,400 1630.6,399.9 1632.1,399.8 1633.6,399.7 1635.1,399.6 1636.6,399.5 1638.1,399.4 1638.8,399.3 1639.6,399.3 1641.1,399.2 1642.6,399.1 1644.1,398.9 1645.6,398.8 1647.1,398.7 1648.6,398.6 1650.1,398.5 1651.6,398.4 1653.1,398.3 1654.6,398.2 1656.1,398.2 1657.6,398.1 1658.8,398.1 1659.1,398.2 1660.6,398.5 1662.1,399.3 1663.6,400.3 1665.1,401.4 1666.6,402.5 1668.1,403.4 1669.6,404 1670.7,404.1 1671.1,404.1 1672.6,404.1 1674.1,404.1 1675.6,404.1 1677.1,404 1678.6,404 1680.1,403.9 1681.6,403.9 1683.1,403.8 1684.6,403.7 1686.1,403.6 1687.6,403.5 1689.1,403.3 1690.6,403.2 1692.1,403 1693.6,402.8 1695.1,402.7 1696.6,402.4 1698.1,402.2 1698.7,402.1 1699.6,401.7 1700,401.5 1701.1,401.2 1702.6,400.9 1704.1,400.5 1705.6,400.2 1707.1,399.9 1708.6,399.6 1710.1,399.3 1711.6,399.1 1713.1,398.8 1714.6,398.5 1716.1,398.3 1717.6,398.1 1719.1,397.8 1720.6,397.6 1722.1,397.4 1723.6,397.2 1725.1,397 1726.6,396.9 1728.1,396.7 1729.6,396.5 1731.1,396.3 1732.6,396.2 1734.1,396 1735.6,395.9 1737.1,395.7 1738.6,395.6 1740.1,395.5 1741.6,395.3 1743.1,395.2 1744.6,395.1 1746.1,394.9 1747.6,394.8 1749.1,394.7 1750.6,394.5 1752.1,394.4 1753.6,394.3 1755.1,394.2 1756.6,394 1758.1,393.9 1759.6,393.8 1761.1,393.6 1762.6,393.5 1764.1,393.3 1765.6,393.2 1767.1,393 1768.6,392.9 1770.1,392.7 1771.6,392.5 1772.9,392.4 1773.1,392.4 1774.6,392.2 1776.1,392 1777.6,391.8 1779.1,391.6 1780.6,391.4 1782.1,391.3 1783.6,391.1 1785.1,390.9 1786.6,390.7 1788.1,390.5 1789.6,390.4 1791.1,390.2 1792.6,390 1794.1,389.8 1795.6,389.6 1797.1,389.5 1798.6,389.3 1800.1,389.1 1801.6,388.9 1803.1,388.7 1804.6,388.6 1806.1,388.4 1807.6,388.2 1809.1,388 1810.6,387.9 1812.2,387.7 1813.7,387.5 1815.2,387.3 1816.7,387.2 1818.2,387 1819.7,386.8 1821.2,386.7 1822.7,386.5 1824.2,386.3 1825.7,386.1 1827.2,386 1828.7,385.8 1830.2,385.6 1831.7,385.5 1833.2,385.3 1834.7,385.2 1836.2,385 1837.7,384.8 1839.2,384.7 1840.7,384.5 1842.2,384.4 1843.7,384.2 1845.2,384.1 1845.7,384 1846.7,383.9 1848.2,383.8 1849.7,383.6 1851.2,383.5 1852.7,383.3 1854.2,383.2 1855.7,383 1857.2,382.9 1858.7,382.8 1860.2,382.6 1861.7,382.5 1863.2,382.4 1864.7,382.2 1866.2,382.1 1867.7,382 1869.2,381.8 1870.7,381.7 1872.2,381.6 1873.7,381.4 1875.2,381.3 1876.7,381.2 1878.2,381 1879.7,380.9 1881.2,380.8 1882.7,380.7 1884.2,380.5 1885.7,380.4 1887.2,380.3 1888.7,380.2 1890.2,380 1891.7,379.9 1893.2,379.8 1894.7,379.6 1896.2,379.5 1897.7,379.4 1899.2,379.2 1900.7,379.1 1902.2,379 1903.7,378.8 1905.2,378.7 1906.7,378.6 1908.2,378.4 1909.7,378.3 1911.2,378.2 1912.7,378 1914.2,377.9 1915.7,377.7 1917.2,377.6 1918.6,377.4 1918.7,377.4 1920.2,377.3 1921.7,377.1 1923.2,377 1924.7,376.8 1926.2,376.7 1927.7,376.5 1929.2,376.4 1930.7,376.2 1932.2,376.1 1933.7,375.9 1935.2,375.8 1936.7,375.6 1938.2,375.4 1939.7,375.3 1941.2,375.1 1942.7,375 1944.2,374.8 1945.7,374.6 1947.2,374.5 1948.7,374.3 1950.2,374.1 1951.7,374 1953.2,373.8 1954.7,373.6 1956.2,373.5 1957.7,373.3 1959.2,373.1 1960.7,373 1962.2,372.8 1963.7,372.6 1965.2,372.5 1966.7,372.3 1968.2,372.1 1969.7,372 1971.2,371.8 1972.7,371.6 1974.2,371.4 1975.7,371.3 1977.2,371.1 1978.7,370.9 1980.2,370.7 1981.7,370.6 1983.2,370.4 1984.7,370.2 1986.2,370 1987.7,369.9 1989.2,369.7 1990.7,369.5 1991.5,369.4 1992.2,369.3 1993.7,369.2 1995.2,369 1996.7,368.8 1998.2,368.6 1999.7,368.4 2001.2,368.3 2002.7,368.1 2004.2,367.9 2005.7,367.7 2007.2,367.5 2008.7,367.3 2010.2,367.1 2011.7,366.9 2013.2,366.7 2014.7,366.5 2016.2,366.3 2017.7,366.2 2019.2,366 2020.7,365.8 2022.2,365.6 2023.7,365.4 2025.2,365.2 2026.7,365 2028.2,364.8 2029.7,364.6 2031.2,364.4 2032.7,364.2 2034.2,364 2035.7,363.8 2037.2,363.6 2038.7,363.4 2040.2,363.2 2041.7,363 2043.2,362.8 2044.7,362.7 2046.2,362.5 2047.7,362.3 2049.2,362.1 2050.7,361.9 2052.2,361.7 2053.7,361.6 2055.2,361.4 2056.7,361.2 2058.2,361 2059.7,360.8 2061.2,360.7 2062.7,360.5 2064.2,360.3 2064.4,360.3 2065.7,360.2 2067.2,360 2068.7,359.8 2070.2,359.7 2071.7,359.5 2073.2,359.3 2074.7,359.2 2076.2,359 2077.7,358.9 2079.2,358.7 2080.7,358.5 2082.2,358.4 2083.7,358.2 2085.2,358.1 2086.7,357.9 2088.2,357.7 2089.7,357.6 2091.2,357.4 2092.7,357.3 2094.2,357.1 2095.7,357 2097.2,356.8 2098.7,356.7 2100.2,356.5 2101.7,356.4 2103.2,356.2 2104.7,356.1 2106.2,355.9 2107.8,355.8 2109.3,355.6 2110.8,355.5 2112.3,355.3 2113.8,355.2 2115.3,355 2116.8,354.9 2118.3,354.8 2119.8,354.6 2121.3,354.5 2122.8,354.3 2124.3,354.2 2125.8,354.1 2127.3,353.9 2128.8,353.8 2130.3,353.6 2131.8,353.5 2133.3,353.4 2134.8,353.2 2136.3,353.1 2137.2,353 2137.8,353 2139.3,352.9 2140.8,352.7 2142.3,352.6 2143.8,352.5 2145.3,352.3 2146.8,352.2 2148.3,352.1 2149.8,352 2151.3,351.8 2152.8,351.7 2154.3,351.6 2155.8,351.5 2157.3,351.3 2158.8,351.2 2160.3,351.1 2161.8,351 2163.3,350.9 2164.8,350.7 2166.3,350.6 2167.8,350.5 2169.3,350.4 2170.8,350.3 2172.3,350.1 2173.8,350 2175.3,349.9 2176.8,349.8 2178.3,349.7 2179.8,349.6 2181.3,349.5 2182.8,349.4 2184.3,349.2 2185.8,349.1 2187.3,349 2188.8,348.9 2190.3,348.8 2191.8,348.7 2193.3,348.6 2194.8,348.5 2196.3,348.4 2197.8,348.3 2199.3,348.2 2200.8,348.1 2202.3,348 2203.8,347.9 2205.3,347.8 2206.8,347.7 2208.3,347.6 2210.6,347.6" fill="none" stroke="#ff00ff" stroke-width="9.4" />
<polyline points="445.6,1255.4 448.1,1253.4 449.6,1251.4 451.1,1249.5 452.6,1247.4 454.1,1245.4 455.6,1243.4 457.1,1241.3 458.6,1239.2 460.1,1237.1 461.6,1235 461.9,1234.6 463.1,1232.8 464.6,1230.6 466.1,1228.4 467.6,1226.2 469.1,1223.9 470.6,1221.6 472.1,1219.3 473.6,1217 475.1,1214.7 476.6,1212.4 478.1,1210.1 479.7,1207.8 481.2,1205.5 482.7,1203.2 483.8,1201.5 484.2,1201 485.7,1198.7 487.2,1196.5 488.7,1194.2 490.2,1191.9 491.7,1189.7 493.2,1187.4 494.7,1185.2 496.2,1183 497.7,1180.8 499.2,1178.7 500.7,1176.5 501.4,1175.6 502.2,1174.3 503.7,1171.8 505.2,1169.2 506.7,1166.5 508.2,1164.2 509.7,1162.3 511.2,1161.2 512.3,1160.9 512.7,1160.9 514.2,1160.9 515.7,1160.9 517.2,1160.9 518.7,1160.9 520.2,1160.9 521.8,1160.9 523.3,1160.9 523.3,1160.9 524.8,1159.1 526.3,1154.8 527.7,1150.6 527.8,1150.3 529.3,1146 530.8,1141.2 532.3,1136 533.8,1130.5 534.2,1128.7 535.3,1124.2 536.8,1116.9 538.3,1108.8 539.8,1100.4 541.3,1092.1 542.8,1084.3 544.3,1077.4 545.2,1073.9 545.8,1071.7 547.3,1066.5 548.8,1061.7 550.3,1057.2 551.8,1053 553.3,1049 554.8,1045.1 556.3,1041.4 557.8,1037.8 558.3,1036.7 559.3,1034.3 560.8,1030.9 562.3,1027.6 563.9,1024.5 565.4,1021.4 566.9,1018.5 568.4,1015.7 569.9,1013.1 571.4,1010.6 571.5,1010.4 572.9,1008.2 574.4,1005.9 575.9,1003.7 577.4,1001.6 578.9,999.6 580.4,997.6 581.9,995.7 583.4,993.8 584.9,992 586.4,990.2 587.9,988.4 589.4,986.6 590.9,984.8 592.4,983 593.4,981.9 593.9,981.3 595.4,979.5 596.9,977.7 598.4,976 599.9,974.2 601.4,972.5 602.9,970.8 604.4,969.2 606,967.5 607.5,965.9 609,964.3 610.5,962.7 612,961.2 613.5,959.6 615,958.1 615.3,957.8 616.5,956.6 618,955.1 619.5,953.7 621,952.2 622.5,950.8 624,949.4 625.5,947.9 627,946.6 628.5,945.2 630,943.9 631.5,942.6 633,941.4 634.5,940.1 636,939 637.2,938.1 637.5,937.8 639,936.7 640.5,935.7 642,934.6 643.5,933.6 645,932.6 646.5,931.7 648.1,930.8 649.6,929.9 651.1,929 652.6,928.2 654.1,928.5 655.7,929.4 657.3,930.8 658.9,932.6 660.4,934.6 661.3,935.9 662,937 663.6,940.9 665.2,946.3 666.7,952.7 667.9,957.8 668.3,959.8 669.9,969.7 671.5,980.9 672.3,986.3 673,990.8 674.6,999.9 676.2,1008.7 677.8,1016.9 679.3,1010.5 680.8,999.6 681.1,997.2 682.3,982.8 683.8,958.1 685.3,933.8 685.4,931.5 686.8,915.6 688.3,900.6 689.8,885.7 691.3,867.9 692.8,844.3 692.8,844.1 694.3,800.4 694.9,781 695.8,754 697,717.7 697.3,708.7 698.8,662 699.1,654.4 700.3,631.1 701.8,607.9 702.3,601.6 703.3,589.1 704.8,574 705.4,569.9 706.3,566.2 707.8,561.1 709.3,557.8 709.6,557.3 710.8,555.9 712.3,554.4 713.8,553.2 715.3,552.2 716.8,551.4 718.1,550.9 718.3,550.9 719.8,550.4 721.3,550 722.8,549.6 724.3,549.3 725.8,549 727.3,548.9 728.6,548.8 728.8,548.8 730.3,548.9 731.8,549.2 733.3,549.6 734.8,550 736.3,550.5 737.8,550.9 739.2,551.4 739.3,551.4 740.8,551.9 742.3,552.4 743.8,553 745.3,553.6 746.8,554.2 748.3,554.8 749.8,555.4 751.3,556 752.8,556.5 754.3,556.9 755.8,557.2 756.1,557.3 757.3,557.5 758.8,557.7 760.3,557.9 761.8,558.1 763.3,558.2 764.8,558.4 766.3,558.5 767.8,558.6 769.3,558.8 770.8,558.9 772.3,559 773.8,559.2 775.3,559.3 776.8,559.5 778.3,559.6 779.8,559.8 779.8,559.8 781.3,560.1 782.8,560.3 784.3,560.5 785.8,560.8 787.3,561.1 788.8,561.3 790.3,561.6 791.8,561.9 793.3,562.3 794.8,562.6 796.3,562.9 797.8,563.2 799.3,563.6 800.8,563.9 802.3,564.2 803.8,564.6 805.3,564.9 806.8,565.2 808.3,565.6 809.8,565.9 811.3,566.2 812.8,566.5 814.3,566.8 815.8,567.1 817.3,567.4 818.8,567.7 819.7,567.8 820.3,567.9 821.8,568.2 823.3,568.4 824.8,568.7 826.3,569 827.8,569.2 829.3,569.5 830.8,569.7 832.3,570 833.8,570.2 835.3,570.5 836.8,570.7 838.3,570.9 839.8,571.2 841.3,571.4 842.8,571.6 844.3,571.9 845.8,572.1 847.3,572.3 848.8,572.5 850.3,572.7 851.8,572.9 853.3,573.1 854.8,573.3 856.3,573.4 857.8,573.6 859.3,573.8 859.6,573.8 860.8,573.9 862.3,574.1 863.8,574.2 865.3,574.4 866.8,574.5 868.3,574.7 869.8,574.8 871.3,575 872.8,575.1 874.3,575.2 875.8,575.3 877.3,575.5 878.8,575.6 880.3,575.7 881.8,575.8 883.3,576 884.8,576.1 886.3,576.2 887.8,576.3 889.3,576.4 890.8,576.5 892.3,576.6 893.8,576.7 895.3,576.8 896.8,576.8 898.3,576.9 899.5,577 899.8,577 901.3,577.1 902.8,577.2 904.3,577.3 905.8,577.3 907.3,577.4 908.8,577.5 910.3,577.6 911.8,577.7 913.3,577.8 914.8,577.8 916.3,577.9 917.8,578 919.3,578.1 920.8,578.1 922.3,578.2 923.8,578.3 925.3,578.3 926.8,578.4 928.3,578.4 929.9,578.5 931.4,578.5 932.9,578.5 934.4,578.6 935.9,578.6 937.4,578.6 938.9,578.6 939.4,578.6 940.4,578.6 941.9,578.6 943.4,578.6 944.9,578.6 946.4,578.6 947.9,578.6 949.4,578.6 950.9,578.6 952.4,578.5 953.9,578.5 955.4,578.5 956.9,578.5 958.4,578.5 959.9,578.5 961.4,578.5 962.9,578.4 964.4,578.4 965.9,578.4 967.4,578.4 968.9,578.4 970.4,578.3 971.9,578.3 973.4,578.3 974.9,578.3 976.4,578.2 977.9,578.2 979.3,578.2 979.4,578.2 980.9,578.2 982.4,578.1 983.9,578.1 985.4,578 986.9,578 988.4,577.9 989.9,577.8 991.4,577.7 992.9,577.6 994.4,577.6 995.9,577.5 997.4,577.4 998.9,577.3 1000.4,577.1 1001.9,577 1003.4,576.9 1004.9,576.8 1006.4,576.7 1007.9,576.6 1009.4,576.5 1010.9,576.4 1012.4,576.3 1013.9,576.2 1015.4,576.1 1016.9,575.9 1018.4,575.8 1019.1,575.8 1019.9,575.8 1021.4,575.7 1022.9,575.6 1024.4,575.5 1025.9,575.4 1027.4,575.3 1028.9,575.2 1030.4,575.1 1031.9,575 1033.4,574.8 1034.9,574.7 1036.4,574.6 1037.9,574.5 1039.4,574.4 1040.9,574.3 1042.4,574.2 1043.9,574.1 1045.4,574 1046.9,573.9 1048.4,573.8 1049.9,573.7 1051.4,573.6 1052.9,573.5 1054.4,573.4 1055.9,573.2 1057.4,573.1 1058.9,573 1059,573 1060.4,572.9 1061.9,572.8 1063.4,572.7 1064.9,572.6 1066.4,572.5 1067.9,572.3 1069.4,572.2 1070.9,572.1 1072.4,572 1073.9,571.9 1075.4,571.8 1076.9,571.6 1078.4,571.5 1079.9,571.4 1081.4,571.3 1082.9,571.2 1084.4,571 1085.9,570.9 1087.4,570.8 1088.9,570.7 1090.4,570.6 1091.9,570.4 1093.4,570.3 1094.9,570.2 1096.4,570 1097.9,569.9 1098.9,569.8 1099.4,569.8 1100.9,569.6 1102.4,569.5 1103.9,569.4 1105.4,569.2 1106.9,569.1 1108.4,568.9 1109.9,568.8 1111.4,568.6 1112.9,568.5 1114.4,568.3 1115.9,568.2 1117.4,568 1118.9,567.9 1120.4,567.7 1121.9,567.6 1123.4,567.4 1124.9,567.3 1126.4,567.1 1127.9,566.9 1129.4,566.8 1130.9,566.6 1132.4,566.5 1133.9,566.3 1135.4,566.2 1136.9,566 1138.4,565.9 1138.8,565.8 1139.9,565.7 1141.4,565.6 1142.9,565.4 1144.4,565.3 1145.9,565.1 1147.4,565 1148.9,564.8 1150.4,564.7 1151.9,564.5 1153.4,564.4 1154.9,564.2 1156.4,564.1 1157.9,563.9 1159.4,563.8 1160.9,563.6 1162.4,563.5 1163.9,563.3 1165.4,563.2 1166.9,563 1168.4,562.9 1169.9,562.7 1171.4,562.6 1172.9,562.4 1174.4,562.3 1175.9,562.1 1177.4,562 1178.7,561.8 1178.9,561.8 1180.4,561.7 1181.9,561.5 1183.4,561.3 1184.9,561.2 1186.4,561 1187.9,560.8 1189.4,560.7 1190.9,560.5 1192.4,560.3 1193.9,560.2 1195.4,560 1196.9,559.8 1198.4,559.7 1199.9,559.5 1201.4,559.3 1202.9,559.2 1204.4,559 1205.9,558.9 1207.4,558.7 1208.9,558.6 1210.4,558.4 1211.9,558.3 1213.4,558.2 1214.9,558.1 1216.4,558 1217.9,557.9 1218.6,557.8 1219.4,557.8 1220.9,557.7 1222.4,557.7 1224,557.6 1225.5,557.5 1227,557.5 1228.5,557.4 1230,557.4 1231.5,557.3 1233,557.3 1234.5,557.2 1236,557.1 1237.5,557.1 1239,557 1239.9,556.9 1240.5,556.9 1242,556.7 1243.5,556.5 1245,556.3 1246.5,556 1248,555.7 1249.5,555.4 1251,555.1 1252.5,554.8 1254,554.5 1255.5,554.3 1257,554.1 1258.5,553.9 1258.5,553.9 1260,553.7 1261.5,553.6 1263,553.4 1264.5,553.3 1266,553.2 1267.5,553.1 1269,552.9 1270.5,552.8 1272,552.7 1273.5,552.6 1275,552.5 1276.5,552.4 1278,552.3 1279.5,552.2 1279.8,552.1 1281,552 1282.5,551.9 1284,551.8 1285.5,551.6 1287,551.5 1288.5,551.3 1290,551.2 1291.5,551.1 1293,550.9 1294.5,550.8 1296,550.6 1297.5,550.5 1299,550.3 1300.5,550.2 1302,550 1303.5,549.9 1305,549.7 1306.5,549.6 1308,549.4 1309.5,549.3 1311,549.1 1312.5,548.9 1314,548.8 1315.5,548.6 1317,548.4 1318.5,548.3 1319.7,548.1 1320,548.1 1321.5,547.9 1323,547.8 1324.5,547.6 1326,547.4 1327.5,547.2 1329,547 1330.5,546.8 1332,546.6 1333.5,546.4 1335,546.2 1336.5,546 1338,545.8 1339.5,545.6 1341,545.4 1342.5,545.2 1344,545 1345.5,544.8 1347,544.6 1348.5,544.4 1350,544.2 1351.5,544 1353,543.8 1354.5,543.6 1356,543.4 1357.5,543.2 1359,543 1359.6,543 1360.5,542.8 1362,542.6 1363.5,542.4 1365,542.2 1366.5,542 1368,541.8 1369.5,541.6 1371,541.4 1372.5,541.2 1374,541 1375.5,540.8 1377,540.6 1378.5,540.4 1380,540.2 1381.5,540 1383,539.8 1384.5,539.6 1386,539.4 1387.5,539.2 1389,539 1390.5,538.8 1392,538.7 1393.5,538.5 1395,538.3 1396.5,538.1 1398,537.9 1399.5,537.8 1399.5,537.8 1401,537.6 1402.5,537.4 1404,537.3 1405.5,537.1 1407,537 1408.5,536.8 1410,536.7 1411.5,536.5 1413,536.4 1414.5,536.2 1416,536.1 1417.5,535.9 1419,535.8 1420.5,535.6 1422,535.5 1423.5,535.4 1425,535.2 1426.5,535.1 1428,534.9 1429.5,534.8 1431,534.6 1432.5,534.5 1434,534.3 1435.5,534.2 1437,534 1438.5,533.9 1439.4,533.8 1440,533.7 1441.5,533.5 1443,533.4 1444.5,533.2 1446,533 1447.5,532.9 1449,532.7 1450.5,532.5 1452,532.3 1453.5,532.2 1455,532 1456.5,531.8 1458,531.6 1459.5,531.4 1461,531.3 1462.5,531.1 1464,530.9 1465.5,530.7 1467,530.5 1468.5,530.3 1470,530.1 1471.5,530 1473,529.8 1474.5,529.6 1476,529.4 1477.5,529.2 1479,529 1479.3,529 1480.5,528.8 1482,528.6 1483.5,528.4 1485,528.3 1486.5,528.1 1488,527.9 1489.5,527.7 1491,527.5 1492.5,527.3 1494,527.1 1495.5,526.9 1497,526.7 1498.5,526.5 1500,526.3 1501.5,526.1 1503,525.9 1504.5,525.7 1506,525.5 1507.5,525.3 1509,525.1 1510.5,524.9 1512,524.7 1513.5,524.5 1515,524.3 1516.5,524.1 1518.1,523.9 1519.1,523.8 1519.6,523.8 1521.1,523.6 1522.6,523.4 1524.1,523.2 1525.6,523 1527.1,522.8 1528.6,522.6 1530.1,522.5 1531.6,522.3 1533.1,522.1 1534.6,521.9 1536.1,521.7 1537.6,521.6 1539.1,521.4 1540.6,521.2 1542.1,521 1543.6,520.9 1545.1,520.7 1546.6,520.5 1548.1,520.3 1549.6,520.1 1551.1,520 1552.6,519.8 1554.1,519.6 1555.6,519.4 1557.1,519.3 1558.6,519.1 1559,519 1560.1,518.9 1561.6,518.7 1563.1,518.5 1564.6,518.3 1566.1,518.1 1567.6,518 1569.1,517.8 1570.6,517.6 1572.1,517.4 1573.6,517.2 1575.1,517 1576.6,516.8 1578.1,516.6 1579.6,516.4 1581.1,516.2 1582.6,516.1 1584.1,515.9 1585.6,515.7 1587.1,515.5 1588.6,515.3 1590.1,515.2 1591.6,515 1593.1,514.8 1594.6,514.7 1596.1,514.5 1597.6,514.4 1598.9,514.2 1599.1,514.2 1600.6,514.1 1602.1,513.9 1603.6,513.8 1605.1,513.7 1606.6,513.5 1608.1,513.4 1609.6,513.3 1611.1,513.2 1612.6,513.1 1614.1,513 1615.6,512.8 1617.1,512.7 1618.6,512.6 1620.1,512.5 1621.6,512.4 1623.1,512.3 1624.6,512.2 1626.1,512.1 1627.6,512 1629.1,511.8 1630.6,511.7 1632.1,511.6 1633.6,511.5 1635.1,511.4 1636.6,511.2 1638.1,511.1 1638.8,511 1639.6,511 1641.1,510.8 1642.6,510.7 1644.1,510.6 1645.6,510.5 1647.1,510.4 1648.6,510.3 1650.1,510.1 1651.6,510 1653.1,509.8 1654.6,509.6 1656.1,509.5 1657.6,509.2 1658.8,509 1659.1,509 1660.6,508.6 1662.1,508 1663.6,507.3 1665.1,506.5 1666.6,505.8 1668.1,505.1 1669.6,504.5 1670.7,504.3 1671.1,504.2 1672.6,503.9 1674.1,503.7 1675.6,503.5 1677.1,503.4 1678.6,503.3 1680.1,503.2 1681.6,503.1 1683.1,503 1684.6,502.9 1686.1,502.8 1687.6,502.7 1689.1,502.6 1690.6,502.5 1692.1,502.3 1693.6,502.1 1695.1,501.8 1696.6,501.6 1698.1,501.2 1698.7,501.1 1699.6,500.2 1700,499.9 1701.1,499.6 1702.6,499.1 1704.1,498.8 1705.6,498.4 1707.1,498 1708.6,497.7 1710.1,497.4 1711.6,497.1 1713.1,496.8 1714.6,496.5 1716.1,496.3 1717.6,496 1719.1,495.8 1720.6,495.6 1722.1,495.3 1723.6,495.2 1725.1,495 1726.6,494.8 1728.1,494.6 1729.6,494.5 1731.1,494.3 1732.6,494.2 1734.1,494 1735.6,493.9 1737.1,493.8 1738.6,493.7 1740.1,493.5 1741.6,493.4 1743.1,493.3 1744.6,493.2 1746.1,493.1 1747.6,493 1749.1,492.9 1750.6,492.8 1752.1,492.7 1753.6,492.6 1755.1,492.5 1756.6,492.4 1758.1,492.2 1759.6,492.1 1761.1,492 1762.6,491.9 1764.1,491.7 1765.6,491.6 1767.1,491.4 1768.6,491.3 1770.1,491.1 1771.6,490.9 1772.9,490.8 1773.1,490.7 1774.6,490.5 1776.1,490.3 1777.6,490.1 1779.1,490 1780.6,489.8 1782.1,489.6 1783.6,489.4 1785.1,489.2 1786.6,489 1788.1,488.8 1789.6,488.6 1791.1,488.4 1792.6,488.2 1794.1,488 1795.6,487.8 1797.1,487.6 1798.6,487.4 1800.1,487.2 1801.6,487 1803.1,486.8 1804.6,486.6 1806.1,486.4 1807.6,486.2 1809.1,486 1810.6,485.8 1812.2,485.6 1813.7,485.4 1815.2,485.2 1816.7,485 1818.2,484.8 1819.7,484.6 1821.2,484.4 1822.7,484.2 1824.2,484 1825.7,483.8 1827.2,483.6 1828.7,483.4 1830.2,483.2 1831.7,483 1833.2,482.8 1834.7,482.6 1836.2,482.5 1837.7,482.3 1839.2,482.1 1840.7,481.9 1842.2,481.7 1843.7,481.5 1845.2,481.4 1845.7,481.3 1846.7,481.2 1848.2,481 1849.7,480.8 1851.2,480.7 1852.7,480.5 1854.2,480.3 1855.7,480.1 1857.2,480 1858.7,479.8 1860.2,479.6 1861.7,479.5 1863.2,479.3 1864.7,479.1 1866.2,479 1867.7,478.8 1869.2,478.6 1870.7,478.5 1872.2,478.3 1873.7,478.2 1875.2,478 1876.7,477.8 1878.2,477.7 1879.7,477.5 1881.2,477.4 1882.7,477.2 1884.2,477 1885.7,476.9 1887.2,476.7 1888.7,476.6 1890.2,476.4 1891.7,476.3 1893.2,476.1 1894.7,475.9 1896.2,475.8 1897.7,475.6 1899.2,475.4 1900.7,475.3 1902.2,475.1 1903.7,475 1905.2,474.8 1906.7,474.6 1908.2,474.5 1909.7,474.3 1911.2,474.1 1912.7,474 1914.2,473.8 1915.7,473.6 1917.2,473.4 1918.6,473.3 1918.7,473.3 1920.2,473.1 1921.7,472.9 1923.2,472.7 1924.7,472.5 1926.2,472.4 1927.7,472.2 1929.2,472 1930.7,471.8 1932.2,471.6 1933.7,471.4 1935.2,471.3 1936.7,471.1 1938.2,470.9 1939.7,470.7 1941.2,470.5 1942.7,470.3 1944.2,470.1 1945.7,469.9 1947.2,469.7 1948.7,469.5 1950.2,469.3 1951.7,469.1 1953.2,469 1954.7,468.8 1956.2,468.6 1957.7,468.4 1959.2,468.2 1960.7,468 1962.2,467.8 1963.7,467.6 1965.2,467.4 1966.7,467.2 1968.2,467 1969.7,466.8 1971.2,466.6 1972.7,466.5 1974.2,466.3 1975.7,466.1 1977.2,465.9 1978.7,465.7 1980.2,465.5 1981.7,465.3 1983.2,465.2 1984.7,465 1986.2,464.8 1987.7,464.6 1989.2,464.4 1990.7,464.3 1991.5,464.2 1992.2,464.1 1993.7,463.9 1995.2,463.7 1996.7,463.6 1998.2,463.4 1999.7,463.2 2001.2,463 2002.7,462.9 2004.2,462.7 2005.7,462.5 2007.2,462.4 2008.7,462.2 2010.2,462 2011.7,461.9 2013.2,461.7 2014.7,461.5 2016.2,461.4 2017.7,461.2 2019.2,461 2020.7,460.9 2022.2,460.7 2023.7,460.5 2025.2,460.4 2026.7,460.2 2028.2,460 2029.7,459.9 2031.2,459.7 2032.7,459.5 2034.2,459.4 2035.7,459.2 2037.2,459.1 2038.7,458.9 2040.2,458.7 2041.7,458.6 2043.2,458.4 2044.7,458.3 2046.2,458.1 2047.7,457.9 2049.2,457.8 2050.7,457.6 2052.2,457.4 2053.7,457.3 2055.2,457.1 2056.7,457 2058.2,456.8 2059.7,456.6 2061.2,456.5 2062.7,456.3 2064.2,456.2 2064.4,456.1 2065.7,456 2067.2,455.8 2068.7,455.7 2070.2,455.5 2071.7,455.4 2073.2,455.2 2074.7,455 2076.2,454.9 2077.7,454.7 2079.2,454.6 2080.7,454.4 2082.2,454.2 2083.7,454.1 2085.2,453.9 2086.7,453.8 2088.2,453.6 2089.7,453.4 2091.2,453.3 2092.7,453.1 2094.2,453 2095.7,452.8 2097.2,452.6 2098.7,452.5 2100.2,452.3 2101.7,452.2 2103.2,452 2104.7,451.8 2106.2,451.7 2107.8,451.5 2109.3,451.4 2110.8,451.2 2112.3,451.1 2113.8,450.9 2115.3,450.7 2116.8,450.6 2118.3,450.4 2119.8,450.3 2121.3,450.1 2122.8,450 2124.3,449.8 2125.8,449.7 2127.3,449.5 2128.8,449.4 2130.3,449.2 2131.8,449.1 2133.3,448.9 2134.8,448.7 2136.3,448.6 2137.2,448.5 2137.8,448.4 2139.3,448.3 2140.8,448.1 2142.3,448 2143.8,447.8 2145.3,447.7 2146.8,447.5 2148.3,447.4 2149.8,447.2 2151.3,447.1 2152.8,446.9 2154.3,446.8 2155.8,446.6 2157.3,446.5 2158.8,446.3 2160.3,446.2 2161.8,446 2163.3,445.9 2164.8,445.7 2166.3,445.6 2167.8,445.5 2169.3,445.3 2170.8,445.2 2172.3,445 2173.8,444.9 2175.3,444.7 2176.8,444.6 2178.3,444.4 2179.8,444.3 2181.3,444.1 2182.8,444 2184.3,443.9 2185.8,443.7 2187.3,443.6 2188.8,443.4 2190.3,443.3 2191.8,443.1 2193.3,443 2194.8,442.8 2196.3,442.7 2197.8,442.6 2199.3,442.4 2200.8,442.3 2202.3,442.1 2203.8,442 2205.3,441.9 2206.8,441.7 2208.3,441.6 2210.6,441.6" fill="none" stroke="#85821b" stroke-width="9.4" />
</g>
<line x1="843" y1="1170" x2="853" y2="1170" stroke="#000" stroke-width="3.8"/>
<line x1="848" y1="1085.3" x2="853" y2="1085.3" stroke="#000" stroke-width="3.8"/>
<line x1="843" y1="1000.7" x2="853" y2="1000.7" stroke="#000" stroke-width="3.8"/>
<line x1="848" y1="916.1" x2="853" y2="916.1" stroke="#000" stroke-width="3.8"/>
<line x1="843" y1="831.4" x2="853" y2="831.4" stroke="#000" stroke-width="3.8"/>
<line x1="848" y1="746.8" x2="853" y2="746.8" stroke="#000" stroke-width="3.8"/>
<line x1="843" y1="662.1" x2="853" y2="662.1" stroke="#000" stroke-width="3.8"/>
<line x1="853" y1="1170" x2="853" y2="1175.2" stroke="#000" stroke-width="3.8"/>
<line x1="931.9" y1="1170" x2="931.9" y2="1180.8" stroke="#000" stroke-width="3.8"/>
<line x1="1010.8" y1="1170" x2="1010.8" y2="1175.2" stroke="#000" stroke-width="3.8"/>
<line x1="1089.7" y1="1170" x2="1089.7" y2="1180.8" stroke="#000" stroke-width="3.8"/>
<line x1="1168.5" y1="1170" x2="1168.5" y2="1175.2" stroke="#000" stroke-width="3.8"/>
<line x1="1247.4" y1="1170" x2="1247.4" y2="1180.8" stroke="#000" stroke-width="3.8"/>
<line x1="1326.3" y1="1170" x2="1326.3" y2="1175.2" stroke="#000" stroke-width="3.8"/>
<line x1="1405.2" y1="1170" x2="1405.2" y2="1180.8" stroke="#000" stroke-width="3.8"/>
<line x1="1484.1" y1="1170" x2="1484.1" y2="1175.2" stroke="#000" stroke-width="3.8"/>
<rect x="853" y="662.1" width="631.1" height="507.9" fill="none" stroke="#000" stroke-width="3.8"/>
<text transform="translate(836.2,1186) scale(1,1.035)" font-size="48.5" text-anchor="end" >0.0</text>
<text transform="translate(836.2,1016.7) scale(1,1.035)" font-size="48.5" text-anchor="end" >0.5</text>
<text transform="translate(836.2,847.4) scale(1,1.035)" font-size="48.5" text-anchor="end" >1.0</text>
<text transform="translate(836.2,678.1) scale(1,1.035)" font-size="48.5" text-anchor="end" >1.5</text>
<text transform="translate(931.9,1225.2) scale(1,1.035)" font-size="48.5" text-anchor="middle" >400</text>
<text transform="translate(1089.7,1225.2) scale(1,1.035)" font-size="48.5" text-anchor="middle" >600</text>
<text transform="translate(1247.4,1225.2) scale(1,1.035)" font-size="48.5" text-anchor="middle" >800</text>
<text transform="translate(1405.2,1225.2) scale(1,1.035)" font-size="48.5" text-anchor="middle" >1000</text>
<text x="1174.5" y="1273" font-size="61" text-anchor="middle" >Wavelength (nm)</text>
<text transform="translate(750.2,916) rotate(-90)" font-size="60.5" text-anchor="middle">Reflatance (%)</text>
<clipPath id="clipI"><rect x="852.5" y="662.1" width="632.1" height="509.9"/></clipPath>
<g clip-path="url(#clipI)" stroke-linejoin="round" shape-rendering="crispEdges">
<polyline points="854.9,985.7 857.6,987.9 860.8,996.7 864.1,998.9 868.5,997.8 875.1,1001.1 881.7,1012 888.3,1018.6 894.9,1009.8 901.4,1003.3 906.9,1004.4 912.4,996.7 919,993.4 925.6,990.1 932.2,989 936.5,1003.3 940.9,1019.7 947.5,1009.8 954.1,994.5 959.6,985.7 967.3,976.9 976,966 984.8,957.2 993.6,949.5 1002.4,942.9 1011.1,934.1 1019.9,926.5 1026.5,918.8 1033.1,914.4 1041.9,905.6 1050.6,896.8 1059.4,889.2 1068.2,880.4 1077,871.6 1085.7,862.8 1094.5,854.1 1103.3,845.3 1112.1,837.6 1120.9,829.9 1129.6,821.1 1138.4,813.5 1147.2,809.1 1154.9,804.7 1160.3,790.4 1166.8,782.2 1175.8,780 1182.6,774.3 1191.6,767.6 1200.7,760.8 1209.7,754 1218.8,743.8 1225.6,744.9 1232.3,735.9 1239.1,732.5 1245.9,728 1250.4,729.1 1257.2,722.3 1261.7,721.2 1266.2,715.6 1270.8,715.6 1275.3,711.5 1279.8,717.8 1284.3,740.4 1287.3,767.6 1286.4,876.1 1289.6,1000 1290.6,1100 1291.5,1166.3 1320,1166.6 1360,1166.8 1400,1167 1431.5,1167 1437.2,1152.7 1442.8,1167 1447.5,1146 1451.5,1138.3 1453.8,1150 1456.3,1164 1460.3,1135.9 1462.5,1150 1464.3,1160.6 1468,1142 1471.5,1130.3 1475,1150 1478.7,1167 1485,1167" fill="none" stroke="#000000" stroke-width="4.4" />
<polyline points="854.9,992.3 857.6,996.7 860.8,1002.2 864.1,1005.5 868.5,1003.3 875.1,1007.6 881.7,1015.3 888.3,1024.1 894.9,1015.3 901.4,1008.7 908,1009.8 913.5,1002.2 925.6,997.8 932.2,995.6 937.6,1016.4 940.9,1025.2 945.3,1016.4 949.7,1005.5 958.5,994.5 967.3,986.8 976,981.3 984.8,976.9 993.6,972.5 1002.4,969.2 1011.1,964.9 1019.9,960.5 1028.7,955 1037.5,949.5 1046.2,942.9 1055,936.3 1063.8,928.7 1072.6,919.9 1081.4,911.1 1090.1,902.3 1098.9,892.5 1107.7,882.6 1116.5,873.8 1125.2,866.1 1134,854.1 1142.8,845.3 1151.6,838.7 1156,834.3 1160.3,821.1 1166.8,813.9 1175.8,809.4 1182.6,802.6 1191.6,794.7 1200.7,785.6 1209.7,777.7 1218.8,764.2 1225.6,763 1232.3,755.1 1239.1,747.2 1245.9,741.6 1250.4,742.7 1257.2,734.8 1261.7,732.5 1266.2,728 1270.8,726.9 1275.3,723.5 1279.8,729.1 1284.3,749.5 1287.3,776.6 1286.4,876.1 1289.6,1000 1290.6,1100 1291.5,1166.3 1320,1166.6 1360,1166.8 1400,1167 1431.5,1167 1437.2,1152.7 1442.8,1167 1447.5,1146 1451.5,1138.3 1453.8,1150 1456.3,1164 1460.3,1135.9 1462.5,1150 1464.3,1160.6 1468,1142 1471.5,1130.3 1475,1150 1478.7,1167 1485,1167" fill="none" stroke="#ff0000" stroke-width="4.4" />
<polyline points="854.5,1088.8 856.5,1012 860.8,1018.6 864.1,1019.7 868.5,1018.6 875.1,1023 881.7,1029.6 888.3,1036.2 894.9,1028.5 901.4,1020.8 908,1023 913.5,1015.3 925.6,1012 932.2,1009.8 937.6,1031.8 940.9,1038.4 947.5,1027.4 954.1,1016.4 962.9,1009.8 971.6,1005.5 980.4,1002.2 989.2,1000 998,996.7 1006.8,993.4 1015.5,989.7 1024.3,984.6 1033.1,979.1 1041.9,972.5 1050.6,966 1059.4,958.3 1068.2,949.5 1077,940.7 1085.7,931.9 1094.5,922.1 1103.3,912.2 1112.1,902.3 1120.9,893.6 1129.6,882.6 1138.4,872.7 1147.2,866.1 1154.9,860.6 1160.3,843.1 1166.8,833.1 1175.8,828.6 1182.6,819.5 1191.6,810.5 1200.7,802.6 1209.7,794.7 1218.8,780 1225.6,778.9 1232.3,769.8 1239.1,761.9 1245.9,755.1 1250.4,755.8 1257.2,747.2 1261.7,744.9 1266.2,739.3 1270.8,739.3 1275.3,734.8 1279.8,740.4 1284.3,758.5 1287.3,785.6 1286.4,876.1 1289.6,1000 1290.6,1100 1291.5,1166.3 1320,1166.6 1360,1166.8 1400,1167 1431.5,1167 1437.2,1152.7 1442.8,1167 1447.5,1146 1451.5,1138.3 1453.8,1150 1456.3,1164 1460.3,1135.9 1462.5,1150 1464.3,1160.6 1468,1142 1471.5,1130.3 1475,1150 1478.7,1167 1485,1167" fill="none" stroke="#0000ff" stroke-width="4.4" />
<polyline points="854.9,993.4 857.6,998.9 860.8,1003.3 864.1,1006.5 868.5,1004.4 875.1,1008.7 881.7,1016.4 888.3,1025.2 894.9,1016.4 901.4,1009.8 908,1010.9 913.5,1003.3 925.6,998.9 932.2,996.7 937.6,1018.6 940.9,1027.4 947.5,1015.3 954.1,1007.6 962.9,1003.7 971.6,1001.5 980.4,999.7 989.2,998.2 998,996.2 1006.8,994 1015.5,991.2 1024.3,986.4 1033.1,980.9 1041.9,974.3 1050.6,967.5 1059.4,960.3 1068.2,952.1 1077,943.4 1085.7,934.6 1094.5,925.4 1103.3,915.5 1112.1,905.6 1120.9,896.8 1129.6,886.5 1138.4,876.7 1147.2,869.9 1154.9,864.6 1160.3,848.6 1166.8,842.2 1175.8,836.5 1182.6,828.6 1191.6,818.4 1200.7,810.5 1209.7,801.5 1218.8,787.9 1225.6,786.8 1232.3,776.6 1239.1,769.8 1245.9,761.9 1250.4,763 1257.2,754 1261.7,751.7 1266.2,746.1 1270.8,745.4 1275.3,740.9 1279.8,747.2 1284.3,765.3 1287.3,790.2 1286.4,876.1 1289.6,1000 1290.6,1100 1291.5,1166.3 1320,1166.6 1360,1166.8 1400,1167 1431.5,1167 1437.2,1152.7 1442.8,1167 1447.5,1146 1451.5,1138.3 1453.8,1150 1456.3,1164 1460.3,1135.9 1462.5,1150 1464.3,1160.6 1468,1142 1471.5,1130.3 1475,1150 1478.7,1167 1485,1167" fill="none" stroke="#128a8a" stroke-width="4.4" />
<polyline points="854.9,993.4 857.6,998.9 860.8,1003.3 864.1,1006.5 868.5,1004.4 875.1,1008.7 881.7,1016.4 888.3,1025.2 894.9,1016.4 901.4,1009.8 908,1010.9 913.5,1003.3 925.6,998.9 932.2,996.7 937.6,1018.6 940.9,1027.4 947.5,1014.2 954.1,1005.5 962.9,1002.2 971.6,1000.4 980.4,998.9 989.2,997.8 998,996.2 1006.8,994.9 1015.5,992.7 1024.3,987.9 1033.1,982.4 1041.9,975.8 1050.6,969.2 1059.4,962.7 1068.2,955 1077,946.2 1085.7,937.4 1094.5,928.7 1103.3,918.8 1112.1,908.9 1120.9,900.1 1129.6,890.3 1138.4,880.4 1147.2,873.8 1154.9,868.3 1160.3,854.1 1166.8,847.8 1175.8,842.2 1182.6,835.4 1191.6,825.2 1200.7,816.2 1209.7,808.2 1218.8,794.7 1225.6,793.6 1232.3,785.6 1239.1,777.7 1245.9,770.9 1250.4,772.1 1257.2,763 1261.7,761.9 1266.2,755.1 1270.8,755.1 1275.3,749 1279.8,758.5 1284.3,785.6 1287.3,819.5 1286.4,876.1 1289.6,1000 1290.6,1100 1291.5,1166.3 1320,1166.6 1360,1166.8 1400,1167 1431.5,1167 1437.2,1152.7 1442.8,1167 1447.5,1146 1451.5,1138.3 1453.8,1150 1456.3,1164 1460.3,1135.9 1462.5,1150 1464.3,1160.6 1468,1142 1471.5,1130.3 1475,1150 1478.7,1167 1485,1167" fill="none" stroke="#ff00ff" stroke-width="4.4" />
<polyline points="854.9,1001.1 857.6,1005.5 860.8,1009.8 864.1,1013.1 868.5,1010.9 875.1,1016.4 881.7,1023 888.3,1030.7 894.9,1021.9 901.4,1015.3 908,1016.4 913.5,1009.8 925.6,1005.5 932.2,1003.3 937.6,1023 940.9,1034 947.5,1025.2 954.1,1020.8 962.9,1021.2 971.6,1023 980.4,1024.5 989.2,1025.6 998,1026.1 1006.8,1025.2 1015.5,1023 1024.3,1019.7 1033.1,1014.7 1041.9,1008.7 1050.6,1002.2 1059.4,994.5 1068.2,986.8 1077,978 1085.7,969.2 1094.5,959.4 1103.3,949.5 1112.1,940.7 1120.9,931.9 1129.6,922.1 1138.4,913.3 1147.2,906.7 1154.9,902.3 1160.3,891.4 1166.8,888.5 1175.8,882.8 1182.6,876.1 1191.6,864.8 1200.7,855.7 1209.7,846.7 1218.8,835.4 1225.6,833.1 1232.3,824.1 1239.1,817.3 1245.9,810.5 1250.4,811 1257.2,801.5 1261.7,800.3 1266.2,793.6 1270.8,793.6 1275.3,788.4 1279.8,794.7 1284.3,821.8 1286.1,876.1 1289.6,1000 1290.6,1100 1291.5,1166.3 1320,1166.6 1360,1166.8 1400,1167 1431.5,1167 1437.2,1152.7 1442.8,1167 1447.5,1146 1451.5,1138.3 1453.8,1150 1456.3,1164 1460.3,1135.9 1462.5,1150 1464.3,1160.6 1468,1142 1471.5,1130.3 1475,1150 1478.7,1167 1485,1167" fill="none" stroke="#85821b" stroke-width="4.4" />
</g>
<rect x="1517.1" y="692.2" width="680.2" height="601.1" fill="#000"/>
<rect x="1497.8" y="672.9" width="680.2" height="601.1" fill="#fff" stroke="#000" stroke-width="1.6"/>
<line x1="1508.3" y1="730.7" x2="1664.3" y2="730.7" stroke="#000000" stroke-width="8.5" stroke-linecap="round"/>
<text x="1684.3" y="754.1" font-size="79" text-anchor="start" letter-spacing="-0.3">As-dep. 40 nm</text>
<line x1="1508.3" y1="829.6" x2="1664.3" y2="829.6" stroke="#ff0000" stroke-width="8.5" stroke-linecap="round"/>
<text x="1684.3" y="853" font-size="79" text-anchor="start" letter-spacing="-0.3">100 °C 40 nm</text>
<line x1="1508.3" y1="928.5" x2="1664.3" y2="928.5" stroke="#0000ff" stroke-width="8.5" stroke-linecap="round"/>
<text x="1684.3" y="951.9" font-size="79" text-anchor="start" letter-spacing="-0.3">120 °C 40 nm</text>
<line x1="1508.3" y1="1027.4" x2="1664.3" y2="1027.4" stroke="#128a8a" stroke-width="8.5" stroke-linecap="round"/>
<text x="1684.3" y="1050.8" font-size="79" text-anchor="start" letter-spacing="-0.3">140 °C 40 nm</text>
<line x1="1508.3" y1="1126.3" x2="1664.3" y2="1126.3" stroke="#ff00ff" stroke-width="8.5" stroke-linecap="round"/>
<text x="1684.3" y="1149.7" font-size="79" text-anchor="start" letter-spacing="-0.3">160 °C 40 nm</text>
<line x1="1508.3" y1="1225.2" x2="1664.3" y2="1225.2" stroke="#85821b" stroke-width="8.5" stroke-linecap="round"/>
<text x="1684.3" y="1248.6" font-size="79" text-anchor="start" letter-spacing="-0.3">180 °C 40 nm</text>
<text y="1729" font-size="86" style="font-weight:normal"><tspan x="1228.6">(</tspan><tspan x="1255.3" style="font-weight:bold">a</tspan><tspan x="1295.6">)</tspan></text>
</g>
<g id="chart-b">
<line x1="647.1" y1="3258.6" x2="647.1" y2="3245.1" stroke="#000" stroke-width="9.2"/>
<line x1="847.6" y1="3258.6" x2="847.6" y2="3232" stroke="#000" stroke-width="9.2"/>
<line x1="1048.2" y1="3258.6" x2="1048.2" y2="3245.1" stroke="#000" stroke-width="9.2"/>
<line x1="1248.8" y1="3258.6" x2="1248.8" y2="3232" stroke="#000" stroke-width="9.2"/>
<line x1="1449.3" y1="3258.6" x2="1449.3" y2="3245.1" stroke="#000" stroke-width="9.2"/>
<line x1="1649.9" y1="3258.6" x2="1649.9" y2="3232" stroke="#000" stroke-width="9.2"/>
<line x1="1850.5" y1="3258.6" x2="1850.5" y2="3245.1" stroke="#000" stroke-width="9.2"/>
<line x1="2051" y1="3258.6" x2="2051" y2="3232" stroke="#000" stroke-width="9.2"/>
<rect x="446.5" y="1963" width="1765" height="1295.6" fill="none" stroke="#000" stroke-width="9.4"/>
<text transform="translate(446.5,3349.7) scale(1,1.035)" font-size="79" text-anchor="middle" >2.50</text>
<text transform="translate(847.6,3349.7) scale(1,1.035)" font-size="79" text-anchor="middle" >2.75</text>
<text transform="translate(1248.8,3349.7) scale(1,1.035)" font-size="79" text-anchor="middle" >3.00</text>
<text transform="translate(1649.9,3349.7) scale(1,1.035)" font-size="79" text-anchor="middle" >3.25</text>
<text transform="translate(2051,3349.7) scale(1,1.035)" font-size="79" text-anchor="middle" >3.50</text>
<text transform="translate(417.5,3277.6) scale(1,1.035)" font-size="63" text-anchor="end" >0.0</text>
<text transform="translate(416,2958.2) scale(1,1.035)" font-size="63" text-anchor="end">5.0x10<tspan dy="-26" font-size="43">11</tspan></text>
<text transform="translate(416,2634.3) scale(1,1.035)" font-size="63" text-anchor="end">1.0x10<tspan dy="-26" font-size="43">12</tspan></text>
<text transform="translate(416,2310.4) scale(1,1.035)" font-size="63" text-anchor="end">1.5x10<tspan dy="-26" font-size="43">12</tspan></text>
<text transform="translate(416,1986.5) scale(1,1.035)" font-size="63" text-anchor="end">2.0x10<tspan dy="-26" font-size="43">12</tspan></text>
<text x="1323.8" y="3484.2" font-size="127" text-anchor="middle" letter-spacing="-0.65">Photon Energy (eV)</text>
<g transform="translate(145.5,3003.8) rotate(-90)">
<text transform="translate(-7.8,0) scale(1.12,1)" font-size="152" style="">(</text>
<text transform="translate(47.3,0) scale(1.0,1)" font-size="127" style="font-style:italic;stroke:#000;stroke-width:2.2px;stroke-linejoin:round">ahv</text>
<text transform="translate(231.7,0) scale(1.12,1)" font-size="152" style="">)</text>
<text transform="translate(288.4,-50.3) scale(1.0,1)" font-size="84" style="">2</text>
<text transform="translate(330.3,0) scale(1.12,1)" font-size="152" style="">(</text>
<text transform="translate(384.8,0) scale(1.0,1)" font-size="127" style="">eV</text>
<text transform="translate(532.1,-64.3) scale(1.0,1)" font-size="84" style="">2</text>
<text transform="translate(576.3,0) scale(1.0,1)" font-size="127" style="">cm</text>
<text transform="translate(736.1,-50) scale(1.0,1)" font-size="84" style="">−2</text>
<text transform="translate(823.3,0) scale(1.12,1)" font-size="152" style="">)</text>
</g>
<clipPath id="clipB"><rect x="446.1" y="1959" width="1765.8" height="1303.6"/></clipPath>
<g clip-path="url(#clipB)" stroke-linejoin="round" shape-rendering="crispEdges">
<polyline points="444.5,3258.2 446.5,3258.2 599.6,3256.6 759.1,3249.1 918.7,3235.9 1025.1,3223.6 1131.5,3213 1180,3204.9 1237.2,3171 1295.7,2975.5 1355.7,2707.9 1417.2,2840.8 1480.3,2876.7 1545,2871.1 1611.4,2855.1 1679.5,2835.4 1749.4,2812.3 1821.2,2786.2 1895,2756.7 1970.8,2724.7 2048.8,2682.9 2129,2628.8 2211.5,2532.8 2213.5,2530.5" fill="none" stroke="#000000" stroke-width="9.6" />
<polyline points="444.5,3251.3 446.5,3251.3 599.6,3247.6 759.1,3239.6 918.7,3228.9 1025.1,3219.4 1131.5,3207.7 1180,3194.9 1237.2,3143.1 1295.7,2804 1355.7,2488.3 1417.2,2697.2 1480.3,2722.3 1545,2703.9 1611.4,2670.6 1679.5,2633.7 1749.4,2591.9 1821.2,2535.3 1895,2480.3 1970.8,2418.1 2048.8,2341.5 2129,2243.6 2211.5,2086.2 2213.5,2082.4" fill="none" stroke="#ff0000" stroke-width="9.6" />
<polyline points="444.5,3235.3 446.5,3235.3 599.6,3231.6 759.1,3223.6 918.7,3213 1025.1,3203.4 1115.5,3191.7 1180,3179 1237.2,3111.2 1295.7,2759.3 1355.7,2454.8 1417.2,2609.4 1480.3,2622.2 1545,2602.8 1611.4,2572.2 1679.5,2537.8 1749.4,2495.9 1821.2,2447.5 1895,2398.9 1970.8,2341.5 2048.8,2279.8 2129,2190.4 2211.5,2071.3 2213.5,2068.4" fill="none" stroke="#0000ff" stroke-width="9.6" />
<polyline points="444.5,3241.2 446.5,3241.2 599.6,3238.5 759.1,3232.7 918.7,3224.7 1025.1,3218.3 1131.5,3210.3 1180,3206.9 1237.2,3167 1295.7,2995.5 1355.7,2886.6 1417.2,2938.6 1480.3,2942.6 1545,2933.2 1611.4,2921.5 1679.5,2906.8 1749.4,2891 1821.2,2872.3 1895,2855.1 1970.8,2835.4 2048.8,2812.3 2129,2783.8 2211.5,2753.3 2213.5,2752.5" fill="none" stroke="#128a8a" stroke-width="9.6" />
<polyline points="444.5,3234.3 446.5,3234.3 599.6,3232.7 759.1,3226.3 918.7,3218.3 1025.1,3211.4 1131.5,3202.3 1180,3198.9 1237.2,3151.1 1295.7,2931.6 1355.7,2789.8 1417.2,2854.8 1480.3,2858 1545,2846 1611.4,2830.5 1679.5,2813.3 1749.4,2793.6 1821.2,2773 1895,2751.8 1970.8,2729.7 2048.8,2699.1 2129,2660.8 2211.5,2612.6 2213.5,2611.4" fill="none" stroke="#ff00ff" stroke-width="9.6" />
<polyline points="444.5,3190.1 446.5,3190.1 599.6,3184.8 759.1,3181.1 918.7,3179.5 1078.3,3175.7 1131.5,3173.1 1180,3169 1237.2,3133.1 1295.7,2850.7 1355.7,2526.5 1417.2,2709.2 1480.3,2737.1 1545,2720.7 1611.4,2692.8 1679.5,2653.4 1749.4,2609.1 1821.2,2545.6 1895,2483.7 1970.8,2407.4 2048.8,2305.3 2129,2167 2211.5,1964.9 2213.5,1960" fill="none" stroke="#85821b" stroke-width="9.6" />
</g>
<rect x="520.5" y="2491.6" width="680.2" height="599.4" fill="#000"/>
<rect x="501.2" y="2472.3" width="680.2" height="599.4" fill="#fff" stroke="#000" stroke-width="1.6"/>
<line x1="511.7" y1="2530" x2="667.7" y2="2530" stroke="#000000" stroke-width="8.5" stroke-linecap="round"/>
<text x="687.7" y="2553.4" font-size="79" text-anchor="start" letter-spacing="-0.3">As-dep. 40 nm</text>
<line x1="511.7" y1="2628.3" x2="667.7" y2="2628.3" stroke="#ff0000" stroke-width="8.5" stroke-linecap="round"/>
<text x="687.7" y="2651.7" font-size="79" text-anchor="start" letter-spacing="-0.3">100 °C 40 nm</text>
<line x1="511.7" y1="2726.6" x2="667.7" y2="2726.6" stroke="#0000ff" stroke-width="8.5" stroke-linecap="round"/>
<text x="687.7" y="2750" font-size="79" text-anchor="start" letter-spacing="-0.3">120 °C 40 nm</text>
<line x1="511.7" y1="2824.9" x2="667.7" y2="2824.9" stroke="#128a8a" stroke-width="8.5" stroke-linecap="round"/>
<text x="687.7" y="2848.3" font-size="79" text-anchor="start" letter-spacing="-0.3">140 °C 40 nm</text>
<line x1="511.7" y1="2923.2" x2="667.7" y2="2923.2" stroke="#ff00ff" stroke-width="8.5" stroke-linecap="round"/>
<text x="687.7" y="2946.6" font-size="79" text-anchor="start" letter-spacing="-0.3">160 °C 40 nm</text>
<line x1="511.7" y1="3021.5" x2="667.7" y2="3021.5" stroke="#85821b" stroke-width="8.5" stroke-linecap="round"/>
<text x="687.7" y="3044.9" font-size="79" text-anchor="start" letter-spacing="-0.3">180 °C 40 nm</text>
<text y="3653.5" font-size="86" style="font-weight:normal"><tspan x="1225">(</tspan><tspan x="1252.5" font-size="88" style="font-weight:bold">b</tspan><tspan x="1301.5">)</tspan></text>
</g>
</svg>
</body>
</html>
